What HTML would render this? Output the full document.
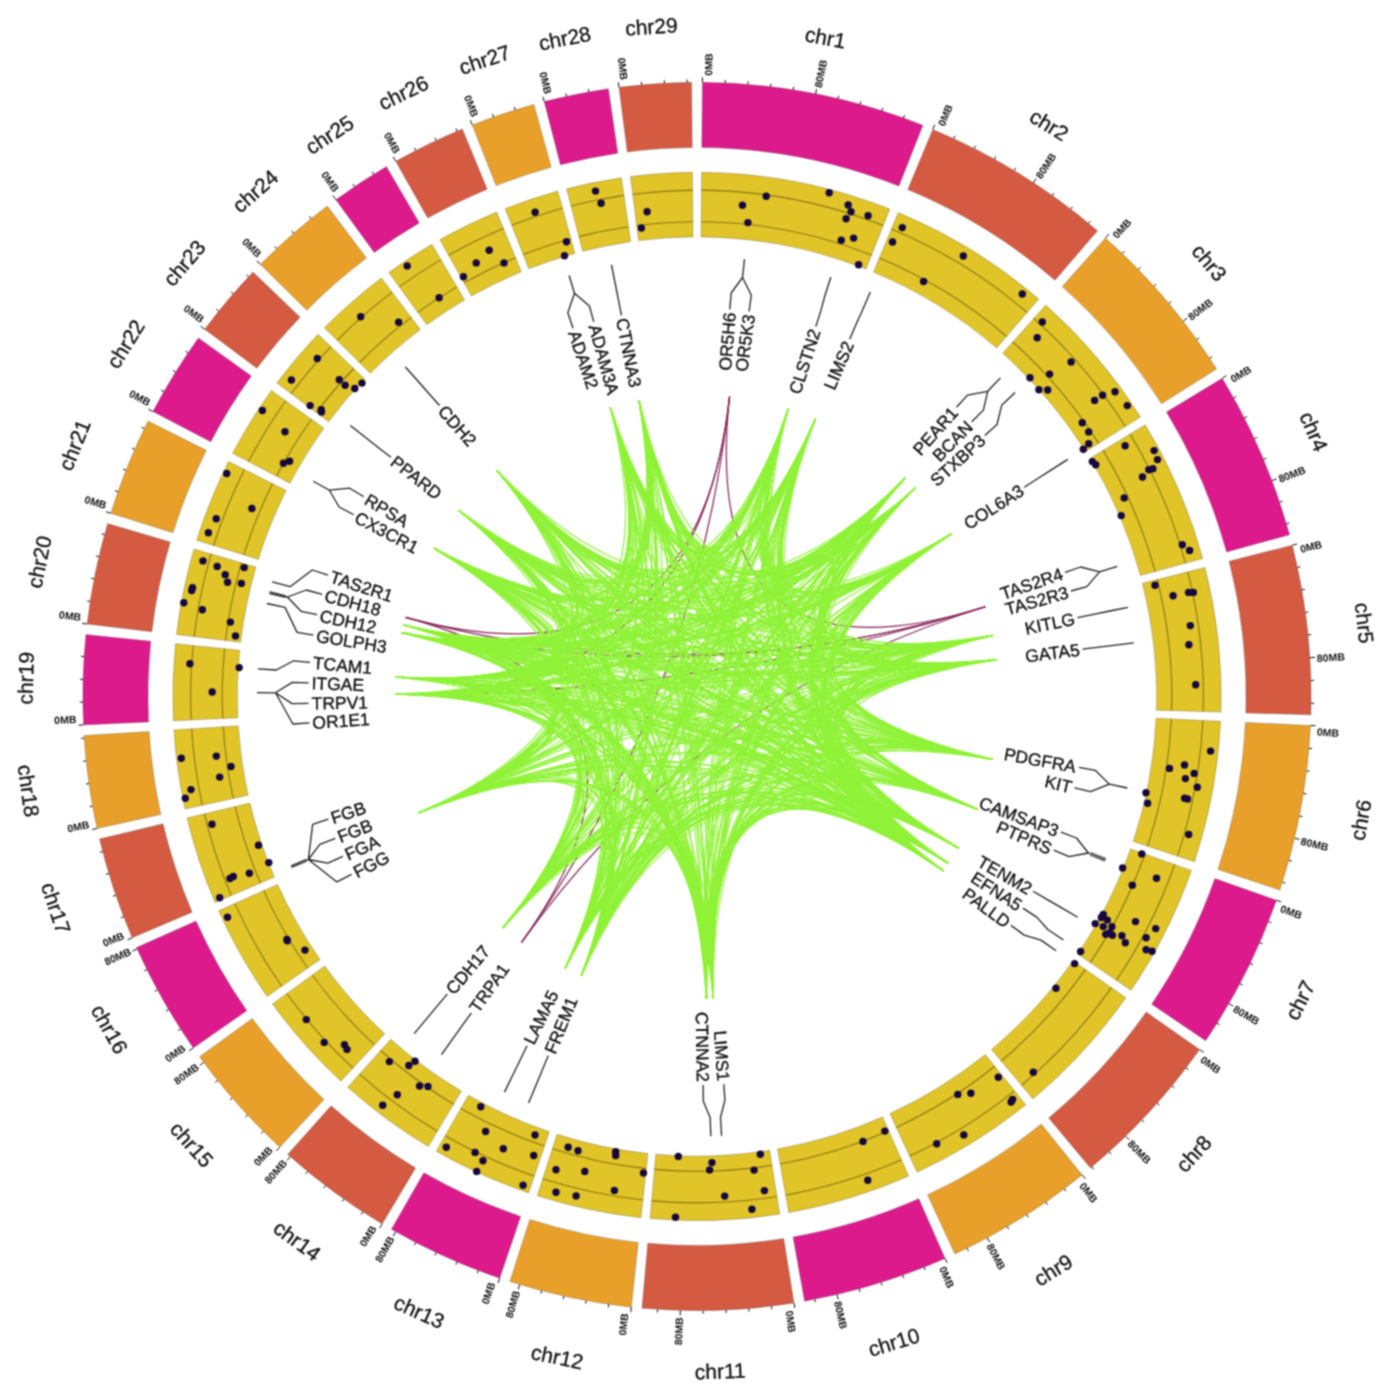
<!DOCTYPE html>
<html><head><meta charset="utf-8"><title>Circos plot</title>
<style>html,body{margin:0;padding:0;background:#fff;}svg{display:block;font-family:"Liberation Sans",sans-serif;}</style>
</head><body>
<svg width="1390" height="1394" viewBox="0 0 1390 1394">
<defs><filter id="bl" x="0" y="0" width="1" height="1" color-interpolation-filters="sRGB"><feConvolveMatrix order="3" kernelMatrix="1 2 1 2 4 2 1 2 1" divisor="16" edgeMode="duplicate"/></filter></defs>
<g filter="url(#bl)">
<rect width="1390" height="1394" fill="#fff"/>
<g fill="none" stroke="#862256" stroke-width="1.2">
<path d="M729.6 396.3Q697 696.5 985.3 606.7"/>
<path d="M729.6 396.3Q697 696.5 405.6 617.3"/>
<path d="M729.6 396.3Q697 696.5 521.6 942.4"/>
<path d="M985.3 606.7Q697 696.5 405.6 617.3"/>
<path d="M985.3 606.7Q697 696.5 521.6 942.4"/>
<path d="M405.6 617.3Q697 696.5 521.6 942.4"/>
<path d="M729.6 396.3Q697 696.5 395 693.9"/>
<path d="M985.3 606.7Q697 696.5 395 693.9"/>
<path d="M985.3 606.7Q697 696.5 403.6 625"/>
</g>
<g fill="none" stroke="#90f238" stroke-width="1.2">
<path d="M610.2 407.2Q697 696.5 788.3 408.6"/>
<path d="M610.2 407.2Q690.4 694.6 788.3 408.6"/>
<path d="M610.2 407.2Q697 696.5 815.5 418.7"/>
<path d="M610.2 407.2Q690.2 691.3 815.5 418.7"/>
<path d="M610.2 407.2Q697 696.5 905.3 477.8"/>
<path d="M610.2 407.2Q707.1 700.9 905.3 477.8"/>
<path d="M610.2 407.2Q697 696.5 915.3 487.9"/>
<path d="M610.2 407.2Q697.8 695.1 915.3 487.9"/>
<path d="M610.2 407.2Q697 696.5 951.4 533.8"/>
<path d="M610.2 407.2Q697.7 703.6 951.4 533.8"/>
<path d="M610.2 407.2Q697 696.5 992.7 635.3"/>
<path d="M610.2 407.2Q683.3 699.1 992.7 635.3"/>
<path d="M610.2 407.2Q697 696.5 996.7 659.7"/>
<path d="M610.2 407.2Q684.3 698.4 996.7 659.7"/>
<path d="M610.2 407.2Q697 696.5 992.4 759.3"/>
<path d="M610.2 407.2Q703.5 705.6 992.4 759.3"/>
<path d="M610.2 407.2Q697 696.5 977.2 809.1"/>
<path d="M610.2 407.2Q704.5 688.3 977.2 809.1"/>
<path d="M610.2 407.2Q697 696.5 958.3 848"/>
<path d="M610.2 407.2Q696.4 686.4 958.3 848"/>
<path d="M610.2 407.2Q697 696.5 948.5 863.6"/>
<path d="M610.2 407.2Q707.6 701 948.5 863.6"/>
<path d="M610.2 407.2Q697 696.5 943.5 871"/>
<path d="M610.2 407.2Q686.8 689.9 943.5 871"/>
<path d="M610.2 407.2Q697 696.5 713.3 998.1"/>
<path d="M610.2 407.2Q704.5 698 713.3 998.1"/>
<path d="M610.2 407.2Q697 696.5 706.5 998.4"/>
<path d="M610.2 407.2Q684.2 698.7 706.5 998.4"/>
<path d="M610.2 407.2Q697 696.5 581.4 975.5"/>
<path d="M610.2 407.2Q705.6 688.3 581.4 975.5"/>
<path d="M610.2 407.2Q697 696.5 565.1 968.2"/>
<path d="M610.2 407.2Q707.4 690.9 565.1 968.2"/>
<path d="M610.2 407.2Q697 696.5 502.9 927.8"/>
<path d="M610.2 407.2Q699.8 688.1 502.9 927.8"/>
<path d="M610.2 407.2Q697 696.5 418.4 813"/>
<path d="M610.2 407.2Q705.6 692.8 418.4 813"/>
<path d="M610.2 407.2Q697 696.5 395 693.9"/>
<path d="M610.2 407.2Q707.7 704 395 693.9"/>
<path d="M610.2 407.2Q697 696.5 395.6 677"/>
<path d="M610.2 407.2Q698.1 701.6 395.6 677"/>
<path d="M610.2 407.2Q697 696.5 401.8 632.7"/>
<path d="M610.2 407.2Q684.3 701.9 401.8 632.7"/>
<path d="M610.2 407.2Q697 696.5 403.6 625"/>
<path d="M610.2 407.2Q693.5 707 403.6 625"/>
<path d="M610.2 407.2Q697 696.5 433.9 548.2"/>
<path d="M610.2 407.2Q689.5 703.1 433.9 548.2"/>
<path d="M610.2 407.2Q697 696.5 459 510.6"/>
<path d="M610.2 407.2Q689.9 692.3 459 510.6"/>
<path d="M610.2 407.2Q697 696.5 496.9 470.3"/>
<path d="M610.2 407.2Q705.8 690.4 496.9 470.3"/>
<path d="M638.9 400.1Q697 696.5 788.3 408.6"/>
<path d="M638.9 400.1Q707.4 691.5 788.3 408.6"/>
<path d="M638.9 400.1Q697 696.5 815.5 418.7"/>
<path d="M638.9 400.1Q709.9 695.8 815.5 418.7"/>
<path d="M638.9 400.1Q697 696.5 905.3 477.8"/>
<path d="M638.9 400.1Q703 706.3 905.3 477.8"/>
<path d="M638.9 400.1Q697 696.5 915.3 487.9"/>
<path d="M638.9 400.1Q709.7 693.6 915.3 487.9"/>
<path d="M638.9 400.1Q697 696.5 951.4 533.8"/>
<path d="M638.9 400.1Q684.9 690.9 951.4 533.8"/>
<path d="M638.9 400.1Q697 696.5 992.7 635.3"/>
<path d="M638.9 400.1Q699.9 708 992.7 635.3"/>
<path d="M638.9 400.1Q697 696.5 996.7 659.7"/>
<path d="M638.9 400.1Q685.6 690.8 996.7 659.7"/>
<path d="M638.9 400.1Q697 696.5 992.4 759.3"/>
<path d="M638.9 400.1Q703.9 699.4 992.4 759.3"/>
<path d="M638.9 400.1Q697 696.5 977.2 809.1"/>
<path d="M638.9 400.1Q709.9 695.7 977.2 809.1"/>
<path d="M638.9 400.1Q697 696.5 958.3 848"/>
<path d="M638.9 400.1Q698.3 692.5 958.3 848"/>
<path d="M638.9 400.1Q697 696.5 948.5 863.6"/>
<path d="M638.9 400.1Q702.2 703.8 948.5 863.6"/>
<path d="M638.9 400.1Q697 696.5 943.5 871"/>
<path d="M638.9 400.1Q697.9 689 943.5 871"/>
<path d="M638.9 400.1Q697 696.5 713.3 998.1"/>
<path d="M638.9 400.1Q709.6 700.1 713.3 998.1"/>
<path d="M638.9 400.1Q697 696.5 706.5 998.4"/>
<path d="M638.9 400.1Q707.5 699.6 706.5 998.4"/>
<path d="M638.9 400.1Q697 696.5 581.4 975.5"/>
<path d="M638.9 400.1Q691.2 706.9 581.4 975.5"/>
<path d="M638.9 400.1Q697 696.5 565.1 968.2"/>
<path d="M638.9 400.1Q710 694.9 565.1 968.2"/>
<path d="M638.9 400.1Q697 696.5 502.9 927.8"/>
<path d="M638.9 400.1Q707 696.4 502.9 927.8"/>
<path d="M638.9 400.1Q697 696.5 418.4 813"/>
<path d="M638.9 400.1Q703.9 700.1 418.4 813"/>
<path d="M638.9 400.1Q697 696.5 395 693.9"/>
<path d="M638.9 400.1Q707.6 698.6 395 693.9"/>
<path d="M638.9 400.1Q697 696.5 395.6 677"/>
<path d="M638.9 400.1Q691.8 699.9 395.6 677"/>
<path d="M638.9 400.1Q697 696.5 401.8 632.7"/>
<path d="M638.9 400.1Q703.1 705.6 401.8 632.7"/>
<path d="M638.9 400.1Q697 696.5 403.6 625"/>
<path d="M638.9 400.1Q698.9 694.4 403.6 625"/>
<path d="M638.9 400.1Q697 696.5 433.9 548.2"/>
<path d="M638.9 400.1Q704.6 694.5 433.9 548.2"/>
<path d="M638.9 400.1Q697 696.5 459 510.6"/>
<path d="M638.9 400.1Q687.5 705.7 459 510.6"/>
<path d="M638.9 400.1Q697 696.5 496.9 470.3"/>
<path d="M638.9 400.1Q687.6 695.3 496.9 470.3"/>
<path d="M788.3 408.6Q697 696.5 905.3 477.8"/>
<path d="M788.3 408.6Q687.7 690.1 905.3 477.8"/>
<path d="M788.3 408.6Q697 696.5 915.3 487.9"/>
<path d="M788.3 408.6Q689.4 689.3 915.3 487.9"/>
<path d="M788.3 408.6Q697 696.5 951.4 533.8"/>
<path d="M788.3 408.6Q683.4 695.9 951.4 533.8"/>
<path d="M788.3 408.6Q697 696.5 992.7 635.3"/>
<path d="M788.3 408.6Q695.3 687.5 992.7 635.3"/>
<path d="M788.3 408.6Q697 696.5 996.7 659.7"/>
<path d="M788.3 408.6Q694.8 703 996.7 659.7"/>
<path d="M788.3 408.6Q697 696.5 992.4 759.3"/>
<path d="M788.3 408.6Q683.3 694.7 992.4 759.3"/>
<path d="M788.3 408.6Q697 696.5 977.2 809.1"/>
<path d="M788.3 408.6Q707.3 697.2 977.2 809.1"/>
<path d="M788.3 408.6Q697 696.5 958.3 848"/>
<path d="M788.3 408.6Q689.1 692.2 958.3 848"/>
<path d="M788.3 408.6Q697 696.5 948.5 863.6"/>
<path d="M788.3 408.6Q695.5 695.2 948.5 863.6"/>
<path d="M788.3 408.6Q697 696.5 943.5 871"/>
<path d="M788.3 408.6Q707.3 700.6 943.5 871"/>
<path d="M788.3 408.6Q697 696.5 713.3 998.1"/>
<path d="M788.3 408.6Q686.2 698.8 713.3 998.1"/>
<path d="M788.3 408.6Q697 696.5 706.5 998.4"/>
<path d="M788.3 408.6Q690.1 705.7 706.5 998.4"/>
<path d="M788.3 408.6Q697 696.5 581.4 975.5"/>
<path d="M788.3 408.6Q696.1 684.8 581.4 975.5"/>
<path d="M788.3 408.6Q697 696.5 565.1 968.2"/>
<path d="M788.3 408.6Q698.9 697.3 565.1 968.2"/>
<path d="M788.3 408.6Q697 696.5 502.9 927.8"/>
<path d="M788.3 408.6Q708.2 693.9 502.9 927.8"/>
<path d="M788.3 408.6Q697 696.5 418.4 813"/>
<path d="M788.3 408.6Q690.2 698.4 418.4 813"/>
<path d="M788.3 408.6Q697 696.5 395 693.9"/>
<path d="M788.3 408.6Q692.4 706.3 395 693.9"/>
<path d="M788.3 408.6Q697 696.5 395.6 677"/>
<path d="M788.3 408.6Q693.8 704.3 395.6 677"/>
<path d="M788.3 408.6Q697 696.5 401.8 632.7"/>
<path d="M788.3 408.6Q690 691.7 401.8 632.7"/>
<path d="M788.3 408.6Q697 696.5 403.6 625"/>
<path d="M788.3 408.6Q691.5 701.9 403.6 625"/>
<path d="M788.3 408.6Q697 696.5 433.9 548.2"/>
<path d="M788.3 408.6Q709.1 698.6 433.9 548.2"/>
<path d="M788.3 408.6Q697 696.5 459 510.6"/>
<path d="M788.3 408.6Q696 686 459 510.6"/>
<path d="M788.3 408.6Q697 696.5 496.9 470.3"/>
<path d="M788.3 408.6Q698.3 704.2 496.9 470.3"/>
<path d="M815.5 418.7Q697 696.5 905.3 477.8"/>
<path d="M815.5 418.7Q697.9 709 905.3 477.8"/>
<path d="M815.5 418.7Q697 696.5 915.3 487.9"/>
<path d="M815.5 418.7Q691.4 698.9 915.3 487.9"/>
<path d="M815.5 418.7Q697 696.5 951.4 533.8"/>
<path d="M815.5 418.7Q706.4 703.5 951.4 533.8"/>
<path d="M815.5 418.7Q697 696.5 992.7 635.3"/>
<path d="M815.5 418.7Q693 703.4 992.7 635.3"/>
<path d="M815.5 418.7Q697 696.5 996.7 659.7"/>
<path d="M815.5 418.7Q685.2 701.3 996.7 659.7"/>
<path d="M815.5 418.7Q697 696.5 992.4 759.3"/>
<path d="M815.5 418.7Q703.3 707.8 992.4 759.3"/>
<path d="M815.5 418.7Q697 696.5 977.2 809.1"/>
<path d="M815.5 418.7Q692.2 689.9 977.2 809.1"/>
<path d="M815.5 418.7Q697 696.5 958.3 848"/>
<path d="M815.5 418.7Q684.4 700.5 958.3 848"/>
<path d="M815.5 418.7Q697 696.5 948.5 863.6"/>
<path d="M815.5 418.7Q701.8 701.1 948.5 863.6"/>
<path d="M815.5 418.7Q697 696.5 943.5 871"/>
<path d="M815.5 418.7Q700.7 706 943.5 871"/>
<path d="M815.5 418.7Q697 696.5 713.3 998.1"/>
<path d="M815.5 418.7Q703.6 685.8 713.3 998.1"/>
<path d="M815.5 418.7Q697 696.5 706.5 998.4"/>
<path d="M815.5 418.7Q695.9 702.4 706.5 998.4"/>
<path d="M815.5 418.7Q697 696.5 581.4 975.5"/>
<path d="M815.5 418.7Q689.1 686.7 581.4 975.5"/>
<path d="M815.5 418.7Q697 696.5 565.1 968.2"/>
<path d="M815.5 418.7Q689.9 706.9 565.1 968.2"/>
<path d="M815.5 418.7Q697 696.5 502.9 927.8"/>
<path d="M815.5 418.7Q695.7 701.4 502.9 927.8"/>
<path d="M815.5 418.7Q697 696.5 418.4 813"/>
<path d="M815.5 418.7Q695.3 708.9 418.4 813"/>
<path d="M815.5 418.7Q697 696.5 395 693.9"/>
<path d="M815.5 418.7Q689.9 700.6 395 693.9"/>
<path d="M815.5 418.7Q697 696.5 395.6 677"/>
<path d="M815.5 418.7Q689.4 701.4 395.6 677"/>
<path d="M815.5 418.7Q697 696.5 401.8 632.7"/>
<path d="M815.5 418.7Q704.5 707.7 401.8 632.7"/>
<path d="M815.5 418.7Q697 696.5 403.6 625"/>
<path d="M815.5 418.7Q697.9 696.2 403.6 625"/>
<path d="M815.5 418.7Q697 696.5 433.9 548.2"/>
<path d="M815.5 418.7Q710.1 695.4 433.9 548.2"/>
<path d="M815.5 418.7Q697 696.5 459 510.6"/>
<path d="M815.5 418.7Q705.8 693.7 459 510.6"/>
<path d="M815.5 418.7Q697 696.5 496.9 470.3"/>
<path d="M815.5 418.7Q699.4 709.8 496.9 470.3"/>
<path d="M905.3 477.8Q697 696.5 992.7 635.3"/>
<path d="M905.3 477.8Q703.3 686.2 992.7 635.3"/>
<path d="M905.3 477.8Q697 696.5 996.7 659.7"/>
<path d="M905.3 477.8Q685.7 695.1 996.7 659.7"/>
<path d="M905.3 477.8Q697 696.5 992.4 759.3"/>
<path d="M905.3 477.8Q692.9 702.8 992.4 759.3"/>
<path d="M905.3 477.8Q697 696.5 977.2 809.1"/>
<path d="M905.3 477.8Q703.1 699.3 977.2 809.1"/>
<path d="M905.3 477.8Q697 696.5 958.3 848"/>
<path d="M905.3 477.8Q694.5 707 958.3 848"/>
<path d="M905.3 477.8Q697 696.5 948.5 863.6"/>
<path d="M905.3 477.8Q709.1 700 948.5 863.6"/>
<path d="M905.3 477.8Q697 696.5 943.5 871"/>
<path d="M905.3 477.8Q692.4 684 943.5 871"/>
<path d="M905.3 477.8Q697 696.5 713.3 998.1"/>
<path d="M905.3 477.8Q707.7 688.4 713.3 998.1"/>
<path d="M905.3 477.8Q697 696.5 706.5 998.4"/>
<path d="M905.3 477.8Q685.2 690.3 706.5 998.4"/>
<path d="M905.3 477.8Q697 696.5 581.4 975.5"/>
<path d="M905.3 477.8Q697 694.9 581.4 975.5"/>
<path d="M905.3 477.8Q697 696.5 565.1 968.2"/>
<path d="M905.3 477.8Q695.2 702 565.1 968.2"/>
<path d="M905.3 477.8Q697 696.5 502.9 927.8"/>
<path d="M905.3 477.8Q685.7 694.7 502.9 927.8"/>
<path d="M905.3 477.8Q697 696.5 418.4 813"/>
<path d="M905.3 477.8Q705.4 693.1 418.4 813"/>
<path d="M905.3 477.8Q697 696.5 395 693.9"/>
<path d="M905.3 477.8Q691.1 705.7 395 693.9"/>
<path d="M905.3 477.8Q697 696.5 395.6 677"/>
<path d="M905.3 477.8Q701.5 691.1 395.6 677"/>
<path d="M905.3 477.8Q697 696.5 401.8 632.7"/>
<path d="M905.3 477.8Q699 687 401.8 632.7"/>
<path d="M905.3 477.8Q697 696.5 403.6 625"/>
<path d="M905.3 477.8Q699.7 704.4 403.6 625"/>
<path d="M905.3 477.8Q697 696.5 433.9 548.2"/>
<path d="M905.3 477.8Q701.2 687.2 433.9 548.2"/>
<path d="M905.3 477.8Q697 696.5 459 510.6"/>
<path d="M905.3 477.8Q698.5 690.9 459 510.6"/>
<path d="M905.3 477.8Q697 696.5 496.9 470.3"/>
<path d="M905.3 477.8Q701.6 683.9 496.9 470.3"/>
<path d="M915.3 487.9Q697 696.5 992.7 635.3"/>
<path d="M915.3 487.9Q709.7 697.1 992.7 635.3"/>
<path d="M915.3 487.9Q697 696.5 996.7 659.7"/>
<path d="M915.3 487.9Q704.2 688.1 996.7 659.7"/>
<path d="M915.3 487.9Q697 696.5 992.4 759.3"/>
<path d="M915.3 487.9Q696.6 699.6 992.4 759.3"/>
<path d="M915.3 487.9Q697 696.5 977.2 809.1"/>
<path d="M915.3 487.9Q689.9 695.3 977.2 809.1"/>
<path d="M915.3 487.9Q697 696.5 958.3 848"/>
<path d="M915.3 487.9Q688 698 958.3 848"/>
<path d="M915.3 487.9Q697 696.5 948.5 863.6"/>
<path d="M915.3 487.9Q709.3 696.6 948.5 863.6"/>
<path d="M915.3 487.9Q697 696.5 943.5 871"/>
<path d="M915.3 487.9Q699.3 698.8 943.5 871"/>
<path d="M915.3 487.9Q697 696.5 713.3 998.1"/>
<path d="M915.3 487.9Q701.5 698.6 713.3 998.1"/>
<path d="M915.3 487.9Q697 696.5 706.5 998.4"/>
<path d="M915.3 487.9Q705.4 685.5 706.5 998.4"/>
<path d="M915.3 487.9Q697 696.5 581.4 975.5"/>
<path d="M915.3 487.9Q692.9 696.4 581.4 975.5"/>
<path d="M915.3 487.9Q697 696.5 565.1 968.2"/>
<path d="M915.3 487.9Q693.9 703.7 565.1 968.2"/>
<path d="M915.3 487.9Q697 696.5 502.9 927.8"/>
<path d="M915.3 487.9Q692 689.9 502.9 927.8"/>
<path d="M915.3 487.9Q697 696.5 418.4 813"/>
<path d="M915.3 487.9Q690.1 704.7 418.4 813"/>
<path d="M915.3 487.9Q697 696.5 395 693.9"/>
<path d="M915.3 487.9Q694.1 701.9 395 693.9"/>
<path d="M915.3 487.9Q697 696.5 395.6 677"/>
<path d="M915.3 487.9Q692.4 694.8 395.6 677"/>
<path d="M915.3 487.9Q697 696.5 401.8 632.7"/>
<path d="M915.3 487.9Q688.4 704.6 401.8 632.7"/>
<path d="M915.3 487.9Q697 696.5 403.6 625"/>
<path d="M915.3 487.9Q698.7 700.1 403.6 625"/>
<path d="M915.3 487.9Q697 696.5 433.9 548.2"/>
<path d="M915.3 487.9Q690.2 691.3 433.9 548.2"/>
<path d="M915.3 487.9Q697 696.5 459 510.6"/>
<path d="M915.3 487.9Q688 705 459 510.6"/>
<path d="M915.3 487.9Q697 696.5 496.9 470.3"/>
<path d="M915.3 487.9Q688 687.8 496.9 470.3"/>
<path d="M951.4 533.8Q697 696.5 992.7 635.3"/>
<path d="M951.4 533.8Q690.6 703.1 992.7 635.3"/>
<path d="M951.4 533.8Q697 696.5 996.7 659.7"/>
<path d="M951.4 533.8Q694.1 687.1 996.7 659.7"/>
<path d="M951.4 533.8Q697 696.5 992.4 759.3"/>
<path d="M951.4 533.8Q693.9 688 992.4 759.3"/>
<path d="M951.4 533.8Q697 696.5 977.2 809.1"/>
<path d="M951.4 533.8Q697.3 706 977.2 809.1"/>
<path d="M951.4 533.8Q697 696.5 958.3 848"/>
<path d="M951.4 533.8Q693.5 686.9 958.3 848"/>
<path d="M951.4 533.8Q697 696.5 948.5 863.6"/>
<path d="M951.4 533.8Q693.7 698.2 948.5 863.6"/>
<path d="M951.4 533.8Q697 696.5 943.5 871"/>
<path d="M951.4 533.8Q703.6 690.2 943.5 871"/>
<path d="M951.4 533.8Q697 696.5 713.3 998.1"/>
<path d="M951.4 533.8Q687.5 706.1 713.3 998.1"/>
<path d="M951.4 533.8Q697 696.5 706.5 998.4"/>
<path d="M951.4 533.8Q700.4 683.7 706.5 998.4"/>
<path d="M951.4 533.8Q697 696.5 581.4 975.5"/>
<path d="M951.4 533.8Q690 698.1 581.4 975.5"/>
<path d="M951.4 533.8Q697 696.5 565.1 968.2"/>
<path d="M951.4 533.8Q698.9 692 565.1 968.2"/>
<path d="M951.4 533.8Q697 696.5 502.9 927.8"/>
<path d="M951.4 533.8Q705.7 689.1 502.9 927.8"/>
<path d="M951.4 533.8Q697 696.5 418.4 813"/>
<path d="M951.4 533.8Q690.8 685.7 418.4 813"/>
<path d="M951.4 533.8Q697 696.5 395 693.9"/>
<path d="M951.4 533.8Q686 691.8 395 693.9"/>
<path d="M951.4 533.8Q697 696.5 395.6 677"/>
<path d="M951.4 533.8Q693.2 694.1 395.6 677"/>
<path d="M951.4 533.8Q697 696.5 401.8 632.7"/>
<path d="M951.4 533.8Q697.6 697.3 401.8 632.7"/>
<path d="M951.4 533.8Q697 696.5 403.6 625"/>
<path d="M951.4 533.8Q708.8 699.9 403.6 625"/>
<path d="M951.4 533.8Q697 696.5 433.9 548.2"/>
<path d="M951.4 533.8Q700.4 699 433.9 548.2"/>
<path d="M951.4 533.8Q697 696.5 459 510.6"/>
<path d="M951.4 533.8Q702.7 708.4 459 510.6"/>
<path d="M951.4 533.8Q697 696.5 496.9 470.3"/>
<path d="M951.4 533.8Q698.2 694.7 496.9 470.3"/>
<path d="M992.7 635.3Q697 696.5 992.4 759.3"/>
<path d="M992.7 635.3Q699.7 692.4 992.4 759.3"/>
<path d="M992.7 635.3Q697 696.5 977.2 809.1"/>
<path d="M992.7 635.3Q702.9 686.7 977.2 809.1"/>
<path d="M992.7 635.3Q697 696.5 958.3 848"/>
<path d="M992.7 635.3Q685 690 958.3 848"/>
<path d="M992.7 635.3Q697 696.5 948.5 863.6"/>
<path d="M992.7 635.3Q709.2 699.3 948.5 863.6"/>
<path d="M992.7 635.3Q697 696.5 943.5 871"/>
<path d="M992.7 635.3Q684.8 695.6 943.5 871"/>
<path d="M992.7 635.3Q697 696.5 713.3 998.1"/>
<path d="M992.7 635.3Q706.3 703.9 713.3 998.1"/>
<path d="M992.7 635.3Q697 696.5 706.5 998.4"/>
<path d="M992.7 635.3Q708.1 691.7 706.5 998.4"/>
<path d="M992.7 635.3Q697 696.5 581.4 975.5"/>
<path d="M992.7 635.3Q695.4 699.6 581.4 975.5"/>
<path d="M992.7 635.3Q697 696.5 565.1 968.2"/>
<path d="M992.7 635.3Q702 687.2 565.1 968.2"/>
<path d="M992.7 635.3Q697 696.5 502.9 927.8"/>
<path d="M992.7 635.3Q699.9 702.7 502.9 927.8"/>
<path d="M992.7 635.3Q697 696.5 418.4 813"/>
<path d="M992.7 635.3Q691.8 691.8 418.4 813"/>
<path d="M992.7 635.3Q697 696.5 395 693.9"/>
<path d="M992.7 635.3Q687.5 704 395 693.9"/>
<path d="M992.7 635.3Q697 696.5 395.6 677"/>
<path d="M992.7 635.3Q690.2 701.6 395.6 677"/>
<path d="M992.7 635.3Q697 696.5 401.8 632.7"/>
<path d="M992.7 635.3Q689.8 700.6 401.8 632.7"/>
<path d="M992.7 635.3Q697 696.5 403.6 625"/>
<path d="M992.7 635.3Q693 696.5 403.6 625"/>
<path d="M992.7 635.3Q697 696.5 433.9 548.2"/>
<path d="M992.7 635.3Q685.2 703.7 433.9 548.2"/>
<path d="M992.7 635.3Q697 696.5 459 510.6"/>
<path d="M992.7 635.3Q703.4 706.7 459 510.6"/>
<path d="M992.7 635.3Q697 696.5 496.9 470.3"/>
<path d="M992.7 635.3Q697.4 684.9 496.9 470.3"/>
<path d="M996.7 659.7Q697 696.5 992.4 759.3"/>
<path d="M996.7 659.7Q685.6 695.3 992.4 759.3"/>
<path d="M996.7 659.7Q697 696.5 977.2 809.1"/>
<path d="M996.7 659.7Q690.9 688.9 977.2 809.1"/>
<path d="M996.7 659.7Q697 696.5 958.3 848"/>
<path d="M996.7 659.7Q704.8 707.2 958.3 848"/>
<path d="M996.7 659.7Q697 696.5 948.5 863.6"/>
<path d="M996.7 659.7Q696.9 692.2 948.5 863.6"/>
<path d="M996.7 659.7Q697 696.5 943.5 871"/>
<path d="M996.7 659.7Q683.7 695 943.5 871"/>
<path d="M996.7 659.7Q697 696.5 713.3 998.1"/>
<path d="M996.7 659.7Q695.2 687.4 713.3 998.1"/>
<path d="M996.7 659.7Q697 696.5 706.5 998.4"/>
<path d="M996.7 659.7Q696.3 702.5 706.5 998.4"/>
<path d="M996.7 659.7Q697 696.5 581.4 975.5"/>
<path d="M996.7 659.7Q691.6 693.3 581.4 975.5"/>
<path d="M996.7 659.7Q697 696.5 565.1 968.2"/>
<path d="M996.7 659.7Q697.9 704.3 565.1 968.2"/>
<path d="M996.7 659.7Q697 696.5 502.9 927.8"/>
<path d="M996.7 659.7Q708.1 693.1 502.9 927.8"/>
<path d="M996.7 659.7Q697 696.5 418.4 813"/>
<path d="M996.7 659.7Q694.9 689.2 418.4 813"/>
<path d="M996.7 659.7Q697 696.5 395 693.9"/>
<path d="M996.7 659.7Q702.5 689.3 395 693.9"/>
<path d="M996.7 659.7Q697 696.5 395.6 677"/>
<path d="M996.7 659.7Q695.8 707.1 395.6 677"/>
<path d="M996.7 659.7Q697 696.5 401.8 632.7"/>
<path d="M996.7 659.7Q703.5 697.4 401.8 632.7"/>
<path d="M996.7 659.7Q697 696.5 403.6 625"/>
<path d="M996.7 659.7Q689.8 703 403.6 625"/>
<path d="M996.7 659.7Q697 696.5 433.9 548.2"/>
<path d="M996.7 659.7Q693.3 701 433.9 548.2"/>
<path d="M996.7 659.7Q697 696.5 459 510.6"/>
<path d="M996.7 659.7Q698.2 688.6 459 510.6"/>
<path d="M996.7 659.7Q697 696.5 496.9 470.3"/>
<path d="M996.7 659.7Q702.3 696.2 496.9 470.3"/>
<path d="M992.4 759.3Q697 696.5 958.3 848"/>
<path d="M992.4 759.3Q689.1 690.9 958.3 848"/>
<path d="M992.4 759.3Q697 696.5 948.5 863.6"/>
<path d="M992.4 759.3Q701.9 688.2 948.5 863.6"/>
<path d="M992.4 759.3Q697 696.5 943.5 871"/>
<path d="M992.4 759.3Q685.1 692 943.5 871"/>
<path d="M992.4 759.3Q697 696.5 713.3 998.1"/>
<path d="M992.4 759.3Q695.2 687 713.3 998.1"/>
<path d="M992.4 759.3Q697 696.5 706.5 998.4"/>
<path d="M992.4 759.3Q686.5 704.1 706.5 998.4"/>
<path d="M992.4 759.3Q697 696.5 581.4 975.5"/>
<path d="M992.4 759.3Q708.6 693.5 581.4 975.5"/>
<path d="M992.4 759.3Q697 696.5 565.1 968.2"/>
<path d="M992.4 759.3Q698.2 706 565.1 968.2"/>
<path d="M992.4 759.3Q697 696.5 502.9 927.8"/>
<path d="M992.4 759.3Q695.6 689.9 502.9 927.8"/>
<path d="M992.4 759.3Q697 696.5 418.4 813"/>
<path d="M992.4 759.3Q708.1 693.5 418.4 813"/>
<path d="M992.4 759.3Q697 696.5 395 693.9"/>
<path d="M992.4 759.3Q697.6 709.4 395 693.9"/>
<path d="M992.4 759.3Q697 696.5 395.6 677"/>
<path d="M992.4 759.3Q696.7 702.6 395.6 677"/>
<path d="M992.4 759.3Q697 696.5 401.8 632.7"/>
<path d="M992.4 759.3Q695.3 690.7 401.8 632.7"/>
<path d="M992.4 759.3Q697 696.5 403.6 625"/>
<path d="M992.4 759.3Q707.5 688.9 403.6 625"/>
<path d="M992.4 759.3Q697 696.5 433.9 548.2"/>
<path d="M992.4 759.3Q701.7 691.2 433.9 548.2"/>
<path d="M992.4 759.3Q697 696.5 459 510.6"/>
<path d="M992.4 759.3Q690.1 700.1 459 510.6"/>
<path d="M992.4 759.3Q697 696.5 496.9 470.3"/>
<path d="M992.4 759.3Q707.3 702.6 496.9 470.3"/>
<path d="M977.2 809.1Q697 696.5 713.3 998.1"/>
<path d="M977.2 809.1Q699.1 692.8 713.3 998.1"/>
<path d="M977.2 809.1Q697 696.5 706.5 998.4"/>
<path d="M977.2 809.1Q692.3 702.4 706.5 998.4"/>
<path d="M977.2 809.1Q697 696.5 581.4 975.5"/>
<path d="M977.2 809.1Q692.2 687 581.4 975.5"/>
<path d="M977.2 809.1Q697 696.5 565.1 968.2"/>
<path d="M977.2 809.1Q696.4 697.5 565.1 968.2"/>
<path d="M977.2 809.1Q697 696.5 502.9 927.8"/>
<path d="M977.2 809.1Q687.8 697.3 502.9 927.8"/>
<path d="M977.2 809.1Q697 696.5 418.4 813"/>
<path d="M977.2 809.1Q691.5 693.2 418.4 813"/>
<path d="M977.2 809.1Q697 696.5 395 693.9"/>
<path d="M977.2 809.1Q686.4 705.2 395 693.9"/>
<path d="M977.2 809.1Q697 696.5 395.6 677"/>
<path d="M977.2 809.1Q704.6 703.5 395.6 677"/>
<path d="M977.2 809.1Q697 696.5 401.8 632.7"/>
<path d="M977.2 809.1Q693.3 690.2 401.8 632.7"/>
<path d="M977.2 809.1Q697 696.5 403.6 625"/>
<path d="M977.2 809.1Q700.6 693.4 403.6 625"/>
<path d="M977.2 809.1Q697 696.5 433.9 548.2"/>
<path d="M977.2 809.1Q707.9 704.1 433.9 548.2"/>
<path d="M977.2 809.1Q697 696.5 459 510.6"/>
<path d="M977.2 809.1Q687.4 706.2 459 510.6"/>
<path d="M977.2 809.1Q697 696.5 496.9 470.3"/>
<path d="M977.2 809.1Q697.6 684.2 496.9 470.3"/>
<path d="M958.3 848Q697 696.5 713.3 998.1"/>
<path d="M958.3 848Q693.6 689.7 713.3 998.1"/>
<path d="M958.3 848Q697 696.5 706.5 998.4"/>
<path d="M958.3 848Q700.9 685.9 706.5 998.4"/>
<path d="M958.3 848Q697 696.5 581.4 975.5"/>
<path d="M958.3 848Q697.2 689.3 581.4 975.5"/>
<path d="M958.3 848Q697 696.5 565.1 968.2"/>
<path d="M958.3 848Q690.6 684.4 565.1 968.2"/>
<path d="M958.3 848Q697 696.5 502.9 927.8"/>
<path d="M958.3 848Q704.8 703.2 502.9 927.8"/>
<path d="M958.3 848Q697 696.5 418.4 813"/>
<path d="M958.3 848Q691.1 704.4 418.4 813"/>
<path d="M958.3 848Q697 696.5 395 693.9"/>
<path d="M958.3 848Q691.9 685.8 395 693.9"/>
<path d="M958.3 848Q697 696.5 395.6 677"/>
<path d="M958.3 848Q701.4 706.1 395.6 677"/>
<path d="M958.3 848Q697 696.5 401.8 632.7"/>
<path d="M958.3 848Q689.3 688.3 401.8 632.7"/>
<path d="M958.3 848Q697 696.5 403.6 625"/>
<path d="M958.3 848Q701.6 692.7 403.6 625"/>
<path d="M958.3 848Q697 696.5 433.9 548.2"/>
<path d="M958.3 848Q705.1 704.4 433.9 548.2"/>
<path d="M958.3 848Q697 696.5 459 510.6"/>
<path d="M958.3 848Q705.5 707 459 510.6"/>
<path d="M958.3 848Q697 696.5 496.9 470.3"/>
<path d="M958.3 848Q695.5 688.6 496.9 470.3"/>
<path d="M948.5 863.6Q697 696.5 713.3 998.1"/>
<path d="M948.5 863.6Q686.8 692.8 713.3 998.1"/>
<path d="M948.5 863.6Q697 696.5 706.5 998.4"/>
<path d="M948.5 863.6Q686.1 699.5 706.5 998.4"/>
<path d="M948.5 863.6Q697 696.5 581.4 975.5"/>
<path d="M948.5 863.6Q700.5 703.5 581.4 975.5"/>
<path d="M948.5 863.6Q697 696.5 565.1 968.2"/>
<path d="M948.5 863.6Q696.2 692.9 565.1 968.2"/>
<path d="M948.5 863.6Q697 696.5 502.9 927.8"/>
<path d="M948.5 863.6Q685.3 693.2 502.9 927.8"/>
<path d="M948.5 863.6Q697 696.5 418.4 813"/>
<path d="M948.5 863.6Q689.4 705.8 418.4 813"/>
<path d="M948.5 863.6Q697 696.5 395 693.9"/>
<path d="M948.5 863.6Q691.6 701.3 395 693.9"/>
<path d="M948.5 863.6Q697 696.5 395.6 677"/>
<path d="M948.5 863.6Q709.6 699.9 395.6 677"/>
<path d="M948.5 863.6Q697 696.5 401.8 632.7"/>
<path d="M948.5 863.6Q697.2 706.4 401.8 632.7"/>
<path d="M948.5 863.6Q697 696.5 403.6 625"/>
<path d="M948.5 863.6Q689.5 706.2 403.6 625"/>
<path d="M948.5 863.6Q697 696.5 433.9 548.2"/>
<path d="M948.5 863.6Q690.4 701.1 433.9 548.2"/>
<path d="M948.5 863.6Q697 696.5 459 510.6"/>
<path d="M948.5 863.6Q698.4 686.3 459 510.6"/>
<path d="M948.5 863.6Q697 696.5 496.9 470.3"/>
<path d="M948.5 863.6Q701.8 689.7 496.9 470.3"/>
<path d="M943.5 871Q697 696.5 713.3 998.1"/>
<path d="M943.5 871Q696.4 701.1 713.3 998.1"/>
<path d="M943.5 871Q697 696.5 706.5 998.4"/>
<path d="M943.5 871Q700.4 699.4 706.5 998.4"/>
<path d="M943.5 871Q697 696.5 581.4 975.5"/>
<path d="M943.5 871Q695.2 684.3 581.4 975.5"/>
<path d="M943.5 871Q697 696.5 565.1 968.2"/>
<path d="M943.5 871Q699.2 702.1 565.1 968.2"/>
<path d="M943.5 871Q697 696.5 502.9 927.8"/>
<path d="M943.5 871Q696.6 687.5 502.9 927.8"/>
<path d="M943.5 871Q697 696.5 418.4 813"/>
<path d="M943.5 871Q696.9 683.9 418.4 813"/>
<path d="M943.5 871Q697 696.5 395 693.9"/>
<path d="M943.5 871Q703.5 705.1 395 693.9"/>
<path d="M943.5 871Q697 696.5 395.6 677"/>
<path d="M943.5 871Q700.1 704.8 395.6 677"/>
<path d="M943.5 871Q697 696.5 401.8 632.7"/>
<path d="M943.5 871Q687.8 692.3 401.8 632.7"/>
<path d="M943.5 871Q697 696.5 403.6 625"/>
<path d="M943.5 871Q697 702.8 403.6 625"/>
<path d="M943.5 871Q697 696.5 433.9 548.2"/>
<path d="M943.5 871Q709.2 698.8 433.9 548.2"/>
<path d="M943.5 871Q697 696.5 459 510.6"/>
<path d="M943.5 871Q706.7 688.6 459 510.6"/>
<path d="M943.5 871Q697 696.5 496.9 470.3"/>
<path d="M943.5 871Q686.9 705.6 496.9 470.3"/>
<path d="M713.3 998.1Q697 696.5 581.4 975.5"/>
<path d="M713.3 998.1Q688 691.3 581.4 975.5"/>
<path d="M713.3 998.1Q697 696.5 565.1 968.2"/>
<path d="M713.3 998.1Q708 694.9 565.1 968.2"/>
<path d="M713.3 998.1Q697 696.5 502.9 927.8"/>
<path d="M713.3 998.1Q693.5 707.5 502.9 927.8"/>
<path d="M713.3 998.1Q697 696.5 418.4 813"/>
<path d="M713.3 998.1Q684.1 697.8 418.4 813"/>
<path d="M713.3 998.1Q697 696.5 395 693.9"/>
<path d="M713.3 998.1Q695.4 685.8 395 693.9"/>
<path d="M713.3 998.1Q697 696.5 395.6 677"/>
<path d="M713.3 998.1Q697.1 695.8 395.6 677"/>
<path d="M713.3 998.1Q697 696.5 401.8 632.7"/>
<path d="M713.3 998.1Q685.6 697.1 401.8 632.7"/>
<path d="M713.3 998.1Q697 696.5 403.6 625"/>
<path d="M713.3 998.1Q687.2 699 403.6 625"/>
<path d="M713.3 998.1Q697 696.5 433.9 548.2"/>
<path d="M713.3 998.1Q690.9 695.4 433.9 548.2"/>
<path d="M713.3 998.1Q697 696.5 459 510.6"/>
<path d="M713.3 998.1Q694.3 696.5 459 510.6"/>
<path d="M713.3 998.1Q697 696.5 496.9 470.3"/>
<path d="M713.3 998.1Q686.4 700.4 496.9 470.3"/>
<path d="M706.5 998.4Q697 696.5 581.4 975.5"/>
<path d="M706.5 998.4Q707.2 693.8 581.4 975.5"/>
<path d="M706.5 998.4Q697 696.5 565.1 968.2"/>
<path d="M706.5 998.4Q705.7 706.5 565.1 968.2"/>
<path d="M706.5 998.4Q697 696.5 502.9 927.8"/>
<path d="M706.5 998.4Q688.1 687.8 502.9 927.8"/>
<path d="M706.5 998.4Q697 696.5 418.4 813"/>
<path d="M706.5 998.4Q695 698.9 418.4 813"/>
<path d="M706.5 998.4Q697 696.5 395 693.9"/>
<path d="M706.5 998.4Q703 699.7 395 693.9"/>
<path d="M706.5 998.4Q697 696.5 395.6 677"/>
<path d="M706.5 998.4Q706.3 692.1 395.6 677"/>
<path d="M706.5 998.4Q697 696.5 401.8 632.7"/>
<path d="M706.5 998.4Q702.5 690.7 401.8 632.7"/>
<path d="M706.5 998.4Q697 696.5 403.6 625"/>
<path d="M706.5 998.4Q704.8 705.2 403.6 625"/>
<path d="M706.5 998.4Q697 696.5 433.9 548.2"/>
<path d="M706.5 998.4Q686.6 688.8 433.9 548.2"/>
<path d="M706.5 998.4Q697 696.5 459 510.6"/>
<path d="M706.5 998.4Q694.1 683.3 459 510.6"/>
<path d="M706.5 998.4Q697 696.5 496.9 470.3"/>
<path d="M706.5 998.4Q690.3 706.5 496.9 470.3"/>
<path d="M581.4 975.5Q697 696.5 502.9 927.8"/>
<path d="M581.4 975.5Q708.4 691.3 502.9 927.8"/>
<path d="M581.4 975.5Q697 696.5 418.4 813"/>
<path d="M581.4 975.5Q685 701.5 418.4 813"/>
<path d="M581.4 975.5Q697 696.5 395 693.9"/>
<path d="M581.4 975.5Q684.9 697.6 395 693.9"/>
<path d="M581.4 975.5Q697 696.5 395.6 677"/>
<path d="M581.4 975.5Q701.5 697.7 395.6 677"/>
<path d="M581.4 975.5Q697 696.5 401.8 632.7"/>
<path d="M581.4 975.5Q698.2 700.2 401.8 632.7"/>
<path d="M581.4 975.5Q697 696.5 403.6 625"/>
<path d="M581.4 975.5Q691.4 696.6 403.6 625"/>
<path d="M581.4 975.5Q697 696.5 433.9 548.2"/>
<path d="M581.4 975.5Q685.6 693.8 433.9 548.2"/>
<path d="M581.4 975.5Q697 696.5 459 510.6"/>
<path d="M581.4 975.5Q691.6 689.2 459 510.6"/>
<path d="M581.4 975.5Q697 696.5 496.9 470.3"/>
<path d="M581.4 975.5Q689.5 698.2 496.9 470.3"/>
<path d="M565.1 968.2Q697 696.5 418.4 813"/>
<path d="M565.1 968.2Q687.1 703.6 418.4 813"/>
<path d="M565.1 968.2Q697 696.5 395 693.9"/>
<path d="M565.1 968.2Q701.8 693 395 693.9"/>
<path d="M565.1 968.2Q697 696.5 395.6 677"/>
<path d="M565.1 968.2Q689 705.3 395.6 677"/>
<path d="M565.1 968.2Q697 696.5 401.8 632.7"/>
<path d="M565.1 968.2Q688.6 694.9 401.8 632.7"/>
<path d="M565.1 968.2Q697 696.5 403.6 625"/>
<path d="M565.1 968.2Q698.8 707.2 403.6 625"/>
<path d="M565.1 968.2Q697 696.5 433.9 548.2"/>
<path d="M565.1 968.2Q697.2 697.2 433.9 548.2"/>
<path d="M565.1 968.2Q697 696.5 459 510.6"/>
<path d="M565.1 968.2Q704.7 706.2 459 510.6"/>
<path d="M565.1 968.2Q697 696.5 496.9 470.3"/>
<path d="M565.1 968.2Q700.2 705.4 496.9 470.3"/>
<path d="M502.9 927.8Q697 696.5 418.4 813"/>
<path d="M502.9 927.8Q700.1 702.1 418.4 813"/>
<path d="M502.9 927.8Q697 696.5 395 693.9"/>
<path d="M502.9 927.8Q701.4 704.2 395 693.9"/>
<path d="M502.9 927.8Q697 696.5 395.6 677"/>
<path d="M502.9 927.8Q698.8 698 395.6 677"/>
<path d="M502.9 927.8Q697 696.5 401.8 632.7"/>
<path d="M502.9 927.8Q691.3 696.9 401.8 632.7"/>
<path d="M502.9 927.8Q697 696.5 403.6 625"/>
<path d="M502.9 927.8Q700.4 697 403.6 625"/>
<path d="M502.9 927.8Q697 696.5 433.9 548.2"/>
<path d="M502.9 927.8Q689.2 701.6 433.9 548.2"/>
<path d="M502.9 927.8Q697 696.5 459 510.6"/>
<path d="M502.9 927.8Q708.1 700.2 459 510.6"/>
<path d="M502.9 927.8Q697 696.5 496.9 470.3"/>
<path d="M502.9 927.8Q689.9 701.9 496.9 470.3"/>
<path d="M418.4 813Q697 696.5 395 693.9"/>
<path d="M418.4 813Q699.2 696 395 693.9"/>
<path d="M418.4 813Q697 696.5 395.6 677"/>
<path d="M418.4 813Q702.4 700.2 395.6 677"/>
<path d="M418.4 813Q697 696.5 401.8 632.7"/>
<path d="M418.4 813Q701.9 704.8 401.8 632.7"/>
<path d="M418.4 813Q697 696.5 403.6 625"/>
<path d="M418.4 813Q690.7 705.6 403.6 625"/>
<path d="M418.4 813Q697 696.5 433.9 548.2"/>
<path d="M418.4 813Q701.7 698.1 433.9 548.2"/>
<path d="M418.4 813Q697 696.5 459 510.6"/>
<path d="M418.4 813Q695.1 708.3 459 510.6"/>
<path d="M418.4 813Q697 696.5 496.9 470.3"/>
<path d="M418.4 813Q684.9 699.2 496.9 470.3"/>
<path d="M395 693.9Q697 696.5 433.9 548.2"/>
<path d="M395 693.9Q692.8 709.3 433.9 548.2"/>
<path d="M395 693.9Q697 696.5 459 510.6"/>
<path d="M395 693.9Q696.3 703.5 459 510.6"/>
<path d="M395 693.9Q697 696.5 496.9 470.3"/>
<path d="M395 693.9Q688.3 687.3 496.9 470.3"/>
<path d="M395.6 677Q697 696.5 433.9 548.2"/>
<path d="M395.6 677Q703.8 701.1 433.9 548.2"/>
<path d="M395.6 677Q697 696.5 459 510.6"/>
<path d="M395.6 677Q708.4 694.3 459 510.6"/>
<path d="M395.6 677Q697 696.5 496.9 470.3"/>
<path d="M395.6 677Q707.8 696.7 496.9 470.3"/>
<path d="M401.8 632.7Q697 696.5 433.9 548.2"/>
<path d="M401.8 632.7Q699.1 697.8 433.9 548.2"/>
<path d="M401.8 632.7Q697 696.5 459 510.6"/>
<path d="M401.8 632.7Q702.6 697.8 459 510.6"/>
<path d="M401.8 632.7Q697 696.5 496.9 470.3"/>
<path d="M401.8 632.7Q695.2 693.8 496.9 470.3"/>
<path d="M403.6 625Q697 696.5 433.9 548.2"/>
<path d="M403.6 625Q701.1 709.2 433.9 548.2"/>
<path d="M403.6 625Q697 696.5 459 510.6"/>
<path d="M403.6 625Q683.3 698.5 459 510.6"/>
<path d="M403.6 625Q697 696.5 496.9 470.3"/>
<path d="M403.6 625Q707.9 690.3 496.9 470.3"/>
<path d="M433.9 548.2Q697 696.5 496.9 470.3"/>
<path d="M433.9 548.2Q710.3 699.4 496.9 470.3"/>
</g>
<path d="M702.4 82.3A614.2 614.2 0 0 1 922.9 125.3L898.9 186A549 549 0 0 0 701.8 147.5Z" fill="#dc1a8c" stroke="#505050" stroke-opacity="0.35" stroke-width="0.9"/>
<path d="M932.8 129.4A614.2 614.2 0 0 1 1097.5 230.8L1055 280.2A549 549 0 0 0 907.8 189.6Z" fill="#d45a42" stroke="#505050" stroke-opacity="0.35" stroke-width="0.9"/>
<path d="M1105.5 237.9A614.2 614.2 0 0 1 1216.6 369.1L1161.5 403.8A549 549 0 0 0 1062.2 286.6Z" fill="#e8a02a" stroke="#505050" stroke-opacity="0.35" stroke-width="0.9"/>
<path d="M1222.3 378.2A614.2 614.2 0 0 1 1289.5 534.8L1226.6 552A549 549 0 0 0 1166.5 412Z" fill="#dc1a8c" stroke="#505050" stroke-opacity="0.35" stroke-width="0.9"/>
<path d="M1292.3 545.2A614.2 614.2 0 0 1 1310.9 714.8L1245.8 712.9A549 549 0 0 0 1229.1 561.3Z" fill="#d45a42" stroke="#505050" stroke-opacity="0.35" stroke-width="0.9"/>
<path d="M1310.5 725.5A614.2 614.2 0 0 1 1279.9 890.1L1218 869.5A549 549 0 0 0 1245.4 722.4Z" fill="#e8a02a" stroke="#505050" stroke-opacity="0.35" stroke-width="0.9"/>
<path d="M1276.4 900.2A614.2 614.2 0 0 1 1205.7 1040.7L1151.7 1004.2A549 549 0 0 0 1214.9 878.6Z" fill="#dc1a8c" stroke="#505050" stroke-opacity="0.35" stroke-width="0.9"/>
<path d="M1199.6 1049.6A614.2 614.2 0 0 1 1090.5 1168.1L1048.7 1118A549 549 0 0 0 1146.2 1012.1Z" fill="#d45a42" stroke="#505050" stroke-opacity="0.35" stroke-width="0.9"/>
<path d="M1082.2 1174.9A614.2 614.2 0 0 1 954.9 1254L927.5 1194.8A549 549 0 0 0 1041.3 1124.1Z" fill="#e8a02a" stroke="#505050" stroke-opacity="0.35" stroke-width="0.9"/>
<path d="M945.1 1258.4A614.2 614.2 0 0 1 804.6 1301.2L793.1 1237A549 549 0 0 0 918.8 1198.7Z" fill="#dc1a8c" stroke="#505050" stroke-opacity="0.35" stroke-width="0.9"/>
<path d="M794 1303A614.2 614.2 0 0 1 642 1308.2L647.8 1243.3A549 549 0 0 0 783.7 1238.6Z" fill="#d45a42" stroke="#505050" stroke-opacity="0.35" stroke-width="0.9"/>
<path d="M631.3 1307.2A614.2 614.2 0 0 1 509.9 1281.5L529.8 1219.4A549 549 0 0 0 638.3 1242.4Z" fill="#e8a02a" stroke="#505050" stroke-opacity="0.35" stroke-width="0.9"/>
<path d="M499.7 1278.2A614.2 614.2 0 0 1 391.4 1229.3L423.9 1172.7A549 549 0 0 0 520.7 1216.4Z" fill="#dc1a8c" stroke="#505050" stroke-opacity="0.35" stroke-width="0.9"/>
<path d="M382.2 1223.9A614.2 614.2 0 0 1 287.7 1154.4L331.1 1105.8A549 549 0 0 0 415.6 1167.9Z" fill="#d45a42" stroke="#505050" stroke-opacity="0.35" stroke-width="0.9"/>
<path d="M279.8 1147.2A614.2 614.2 0 0 1 199.5 1056.7L252.3 1018.5A549 549 0 0 0 324.1 1099.4Z" fill="#e8a02a" stroke="#505050" stroke-opacity="0.35" stroke-width="0.9"/>
<path d="M193.3 1048A614.2 614.2 0 0 1 136.5 947.6L196 921A549 549 0 0 0 246.8 1010.7Z" fill="#dc1a8c" stroke="#505050" stroke-opacity="0.35" stroke-width="0.9"/>
<path d="M132.2 937.8A614.2 614.2 0 0 1 99.5 838.9L163 823.8A549 549 0 0 0 192.1 912.2Z" fill="#d45a42" stroke="#505050" stroke-opacity="0.35" stroke-width="0.9"/>
<path d="M97.1 828.5A614.2 614.2 0 0 1 84 735.6L149.1 731.5A549 549 0 0 0 160.8 814.4Z" fill="#e8a02a" stroke="#505050" stroke-opacity="0.35" stroke-width="0.9"/>
<path d="M83.5 724.9A614.2 614.2 0 0 1 85.9 634.6L150.8 641.2A549 549 0 0 0 148.6 721.9Z" fill="#dc1a8c" stroke="#505050" stroke-opacity="0.35" stroke-width="0.9"/>
<path d="M87.1 624A614.2 614.2 0 0 1 107.6 523.6L170.2 541.9A549 549 0 0 0 151.8 631.7Z" fill="#d45a42" stroke="#505050" stroke-opacity="0.35" stroke-width="0.9"/>
<path d="M110.8 513.3A614.2 614.2 0 0 1 148 421.1L206.3 450.3A549 549 0 0 0 173 532.8Z" fill="#e8a02a" stroke="#505050" stroke-opacity="0.35" stroke-width="0.9"/>
<path d="M152.9 411.6A614.2 614.2 0 0 1 198.4 337.9L251.3 376A549 549 0 0 0 210.7 441.8Z" fill="#dc1a8c" stroke="#505050" stroke-opacity="0.35" stroke-width="0.9"/>
<path d="M204.7 329.3A614.2 614.2 0 0 1 253 272.1L300.1 317.2A549 549 0 0 0 256.9 368.2Z" fill="#d45a42" stroke="#505050" stroke-opacity="0.35" stroke-width="0.9"/>
<path d="M260.4 264.5A614.2 614.2 0 0 1 327.3 206.1L366.5 258.1A549 549 0 0 0 306.8 310.3Z" fill="#e8a02a" stroke="#505050" stroke-opacity="0.35" stroke-width="0.9"/>
<path d="M335.9 199.7A614.2 614.2 0 0 1 386.4 166.6L419.3 222.9A549 549 0 0 0 374.2 252.4Z" fill="#dc1a8c" stroke="#505050" stroke-opacity="0.35" stroke-width="0.9"/>
<path d="M395.7 161.3A614.2 614.2 0 0 1 462.3 128.9L487.2 189.2A549 549 0 0 0 427.7 218.1Z" fill="#d45a42" stroke="#505050" stroke-opacity="0.35" stroke-width="0.9"/>
<path d="M472.2 124.9A614.2 614.2 0 0 1 533.9 104.4L551.2 167.2A549 549 0 0 0 496.1 185.6Z" fill="#e8a02a" stroke="#505050" stroke-opacity="0.35" stroke-width="0.9"/>
<path d="M544.2 101.6A614.2 614.2 0 0 1 608.4 88.7L617.8 153.2A549 549 0 0 0 560.4 164.8Z" fill="#dc1a8c" stroke="#505050" stroke-opacity="0.35" stroke-width="0.9"/>
<path d="M619 87.3A614.2 614.2 0 0 1 691.6 82.3L692.2 147.5A549 549 0 0 0 627.3 151.9Z" fill="#d45a42" stroke="#505050" stroke-opacity="0.35" stroke-width="0.9"/>
<path d="M702.4 82.3L702.4 77.3M725.2 82.9L725.3 79.9M747.9 84.4L748.2 81.4M770.6 86.7L771 83.7M793.2 89.9L793.7 86.9M815.6 93.9L816.6 89M837.9 98.7L838.6 95.8M860 104.3L860.8 101.4M881.9 110.8L882.8 107.9M903.5 118.1L904.5 115.2M932.8 129.4L934.7 124.8M953.7 138.5L955 135.8M974.3 148.4L975.6 145.8M994.4 159.1L995.9 156.5M1014.2 170.5L1015.7 167.9M1033.5 182.7L1036.2 178.5M1052.3 195.5L1054 193.1M1070.7 209L1072.5 206.7M1088.5 223.2L1090.4 220.9M1105.5 237.9L1108.9 234.1M1122.3 253.3L1124.3 251.2M1138.4 269.4L1140.6 267.4M1154 286.1L1156.2 284.1M1168.9 303.4L1171.2 301.4M1183.2 321.2L1187.1 318.1M1196.8 339.5L1199.2 337.7M1209.7 358.3L1212.2 356.6M1222.3 378.2L1226.5 375.6M1233.7 397.9L1236.3 396.4M1244.4 418L1247.1 416.7M1254.4 438.5L1257.1 437.3M1263.6 459.4L1266.4 458.2M1272 480.6L1276.7 478.8M1279.6 502.1L1282.5 501.1M1286.4 523.9L1289.3 523M1292.3 545.2L1297.1 544M1297.5 567.4L1300.4 566.8M1301.9 589.8L1304.8 589.3M1305.4 612.3L1308.4 611.9M1308.1 634.9L1311.1 634.6M1310 657.7L1315 657.4M1311 680.5L1314 680.4M1311.2 703.3L1314.2 703.3M1310.5 725.5L1315.5 725.7M1309 748.3L1312 748.5M1306.7 770.9L1309.6 771.3M1303.5 793.5L1306.5 794M1299.5 816L1302.4 816.6M1294.6 838.3L1299.5 839.4M1288.9 860.3L1291.8 861.1M1282.5 882.2L1285.3 883.1M1276.4 900.2L1281.1 901.9M1268.5 921.6L1271.3 922.7M1259.7 942.7L1262.5 943.9M1250.2 963.4L1252.9 964.7M1239.9 983.7L1242.6 985.1M1228.9 1003.7L1233.2 1006.2M1217.1 1023.2L1219.6 1024.8M1199.6 1049.6L1203.7 1052.4M1186.1 1068L1188.5 1069.8M1172 1085.9L1174.3 1087.8M1157.2 1103.2L1159.5 1105.2M1141.8 1120L1144 1122.1M1125.8 1136.3L1129.3 1139.8M1109.2 1151.9L1111.2 1154.1M1092 1166.9L1093.9 1169.2M1082.2 1174.9L1085.4 1178.8M1064.2 1188.8L1066 1191.2M1045.7 1202.1L1047.4 1204.6M1026.7 1214.7L1028.3 1217.3M1007.2 1226.6L1008.7 1229.2M987.3 1237.8L989.7 1242.2M967 1248.2L968.3 1250.9M945.1 1258.4L947.1 1262.9M924.1 1267.2L925.2 1270M902.7 1275.2L903.7 1278.1M881.1 1282.5L882 1285.3M859.2 1288.9L860 1291.8M837.1 1294.5L838.2 1299.4M814.8 1299.3L815.4 1302.2M794 1303L794.8 1307.9M771.4 1306.2L771.8 1309.2M748.7 1308.5L749 1311.5M726 1310L726.1 1313M703.2 1310.7L703.2 1313.7M680.4 1310.5L680.2 1315.5M657.6 1309.4L657.4 1312.4M631.3 1307.2L630.8 1312.2M608.7 1304.3L608.3 1307.3M586.2 1300.6L585.7 1303.6M563.8 1296.1L563.2 1299M541.7 1290.7L540.9 1293.6M519.7 1284.6L518.3 1289.3M499.7 1278.2L498.1 1282.9M478.3 1270.4L477.2 1273.2M457.1 1261.9L455.9 1264.7M436.3 1252.6L435 1255.3M415.8 1242.6L414.4 1245.2M395.7 1231.7L393.3 1236.1M382.2 1223.9L379.6 1228.2M362.8 1211.8L361.2 1214.4M343.9 1199.1L342.2 1201.5M325.5 1185.6L323.7 1188M307.6 1171.5L305.7 1173.8M290.3 1156.7L286.9 1160.5M279.8 1147.2L276.4 1150.9M263.3 1131.4L261.2 1133.6M247.5 1115L245.3 1117.1M232.2 1098.1L230 1100M217.7 1080.5L215.3 1082.4M203.7 1062.5L199.7 1065.4M193.3 1048L189.2 1050.8M180.6 1029L178.1 1030.7M168.6 1009.6L166 1011.2M157.4 989.8L154.7 991.2M146.8 969.6L144.2 970.9M137.1 949L132.5 951M132.2 937.8L127.6 939.8M123.6 916.7L120.8 917.8M115.8 895.2L113 896.2M108.9 873.5L106 874.4M102.7 851.6L99.8 852.3M97.1 828.5L92.3 829.5M92.7 806.1L89.7 806.6M89 783.6L86 784M86.2 761L83.2 761.3M84.2 738.2L81.2 738.4M83.5 724.9L78.5 725.2M82.8 702.1L79.8 702.2M83 679.3L80 679.3M84.1 656.6L81.1 656.4M87.1 624L82.1 623.4M90.2 601.4L87.2 600.9M94.2 578.9L91.2 578.3M98.9 556.6L96 555.9M104.5 534.5L101.7 533.7M110.8 513.3L106 511.8M118 491.7L115.1 490.7M126 470.3L123.2 469.2M134.7 449.3L132 448.1M144.3 428.6L141.6 427.3M152.9 411.6L148.5 409.2M163.9 391.6L161.2 390.1M175.5 372L173 370.4M187.9 352.8L185.5 351.2M204.7 329.3L200.7 326.3M218.7 311.2L216.3 309.3M233.3 293.7L231 291.8M248.6 276.8L246.4 274.8M260.4 264.5L256.9 260.9M276.8 248.6L274.7 246.4M293.7 233.3L291.7 231M311.2 218.6L309.3 216.3M335.9 199.7L332.9 195.6M354.6 186.6L352.9 184.1M373.7 174.3L372.2 171.7M395.7 161.3L393.2 156.9M415.7 150.5L414.4 147.8M436.2 140.4L434.9 137.7M457 131.1L455.9 128.4M472.2 124.9L470.4 120.3M493.6 117L492.6 114.1M515.2 109.8L514.4 106.9M544.2 101.6L543 96.8M566.4 96.3L565.8 93.4M588.8 91.9L588.3 89M619 87.3L618.4 82.3M641.7 84.8L641.4 81.8M664.4 83.2L664.3 80.2M687.2 82.4L687.2 79.4" stroke="#111" stroke-width="1" fill="none"/>
<g font-family="Liberation Sans, sans-serif" font-size="10.5" font-weight="bold" fill="#111">
<text x="708.4" y="75.6" dy="3.8" text-anchor="start" transform="rotate(-89 708.4 75.6)">0MB</text>
<text x="818" y="87.4" dy="3.8" text-anchor="start" transform="rotate(-78.8 818 87.4)">80MB</text>
<text x="940.9" y="125.4" dy="3.8" text-anchor="start" transform="rotate(-66.9 940.9 125.4)">0MB</text>
<text x="1038.1" y="177.6" dy="3.8" text-anchor="start" transform="rotate(-56.7 1038.1 177.6)">80MB</text>
<text x="1114.5" y="236.8" dy="3.8" text-anchor="start" transform="rotate(-47.8 1114.5 236.8)">0MB</text>
<text x="1189.2" y="317.9" dy="3.8" text-anchor="start" transform="rotate(-37.6 1189.2 317.9)">80MB</text>
<text x="1231.2" y="379.8" dy="3.8" text-anchor="start" transform="rotate(-30.7 1231.2 379.8)">0MB</text>
<text x="1278.8" y="479.2" dy="3.8" text-anchor="start" transform="rotate(-20.5 1278.8 479.2)">80MB</text>
<text x="1300.3" y="549.3" dy="3.8" text-anchor="start" transform="rotate(-13.7 1300.3 549.3)">0MB</text>
<text x="1316.8" y="658.3" dy="3.8" text-anchor="start" transform="rotate(-3.5 1316.8 658.3)">80MB</text>
<text x="1317" y="731.8" dy="3.8" text-anchor="start" transform="rotate(3.3 1317 731.8)">0MB</text>
<text x="1301" y="840.9" dy="3.8" text-anchor="start" transform="rotate(13.4 1301 840.9)">80MB</text>
<text x="1280.8" y="908.1" dy="3.8" text-anchor="start" transform="rotate(19.9 1280.8 908.1)">0MB</text>
<text x="1234.2" y="1008" dy="3.8" text-anchor="start" transform="rotate(30.1 1234.2 1008)">80MB</text>
<text x="1201.7" y="1058.3" dy="3.8" text-anchor="start" transform="rotate(35.6 1201.7 1058.3)">0MB</text>
<text x="1129.7" y="1141.9" dy="3.8" text-anchor="start" transform="rotate(45.8 1129.7 1141.9)">80MB</text>
<text x="1081.8" y="1183.9" dy="3.8" text-anchor="start" transform="rotate(51.7 1081.8 1183.9)">0MB</text>
<text x="989.6" y="1244.3" dy="3.8" text-anchor="start" transform="rotate(61.9 989.6 1244.3)">80MB</text>
<text x="942.4" y="1267" dy="3.8" text-anchor="start" transform="rotate(66.7 942.4 1267)">0MB</text>
<text x="837.6" y="1301.4" dy="3.8" text-anchor="start" transform="rotate(76.9 837.6 1301.4)">80MB</text>
<text x="789.2" y="1310.6" dy="3.8" text-anchor="start" transform="rotate(81.5 789.2 1310.6)">0MB</text>
<text x="679.1" y="1317.2" dy="3.8" text-anchor="end" transform="rotate(271.7 679.1 1317.2)">80MB</text>
<text x="624.7" y="1313.3" dy="3.8" text-anchor="end" transform="rotate(276.7 624.7 1313.3)">0MB</text>
<text x="516.7" y="1290.8" dy="3.8" text-anchor="end" transform="rotate(286.9 516.7 1290.8)">80MB</text>
<text x="491.9" y="1282.7" dy="3.8" text-anchor="end" transform="rotate(289.3 491.9 1282.7)">0MB</text>
<text x="391.5" y="1237.1" dy="3.8" text-anchor="end" transform="rotate(299.5 391.5 1237.1)">80MB</text>
<text x="373.6" y="1226.6" dy="3.8" text-anchor="end" transform="rotate(301.4 373.6 1226.6)">0MB</text>
<text x="284.9" y="1161.1" dy="3.8" text-anchor="end" transform="rotate(311.6 284.9 1161.1)">80MB</text>
<text x="270.8" y="1148.1" dy="3.8" text-anchor="end" transform="rotate(313.3 270.8 1148.1)">0MB</text>
<text x="197.6" y="1065.6" dy="3.8" text-anchor="end" transform="rotate(323.5 197.6 1065.6)">80MB</text>
<text x="184.3" y="1047" dy="3.8" text-anchor="end" transform="rotate(325.6 184.3 1047)">0MB</text>
<text x="130.4" y="950.8" dy="3.8" text-anchor="end" transform="rotate(335.8 130.4 950.8)">80MB</text>
<text x="123.6" y="935" dy="3.8" text-anchor="end" transform="rotate(337.4 123.6 935)">0MB</text>
<text x="89.2" y="824.1" dy="3.8" text-anchor="end" transform="rotate(348.1 89.2 824.1)">0MB</text>
<text x="76.4" y="719.3" dy="3.8" text-anchor="end" transform="rotate(357.9 76.4 719.3)">0MB</text>
<text x="81.1" y="617.2" dy="3.8" text-anchor="end" transform="rotate(367.3 81.1 617.2)">0MB</text>
<text x="106.1" y="505.6" dy="3.8" text-anchor="end" transform="rotate(377.9 106.1 505.6)">0MB</text>
<text x="149.7" y="403.1" dy="3.8" text-anchor="end" transform="rotate(388.2 149.7 403.1)">0MB</text>
<text x="202.8" y="320.4" dy="3.8" text-anchor="end" transform="rotate(397.3 202.8 320.4)">0MB</text>
<text x="259.8" y="255.5" dy="3.8" text-anchor="end" transform="rotate(405.3 259.8 255.5)">0MB</text>
<text x="336.7" y="190.7" dy="3.8" text-anchor="end" transform="rotate(414.5 336.7 190.7)">0MB</text>
<text x="397.5" y="152.5" dy="3.8" text-anchor="end" transform="rotate(421.2 397.5 152.5)">0MB</text>
<text x="475.3" y="116.4" dy="3.8" text-anchor="end" transform="rotate(429.1 475.3 116.4)">0MB</text>
<text x="548.3" y="93.6" dy="3.8" text-anchor="end" transform="rotate(436.1 548.3 93.6)">0MB</text>
<text x="624.1" y="79.8" dy="3.8" text-anchor="end" transform="rotate(443.3 624.1 79.8)">0MB</text>
</g>
<g font-family="Liberation Sans, sans-serif" font-size="21" fill="#111" stroke="#111" stroke-width="0.3" text-anchor="middle">
<text x="824.1" y="44.8" transform="rotate(11 824.1 44.8)">chr1</text>
<text x="1045.3" y="131.2" transform="rotate(31.6 1045.3 131.2)">chr2</text>
<text x="1203.7" y="267.4" transform="rotate(49.7 1203.7 267.4)">chr3</text>
<text x="1307.1" y="434.5" transform="rotate(66.8 1307.1 434.5)">chr4</text>
<text x="1357" y="623.9" transform="rotate(83.7 1357 623.9)">chr5</text>
<text x="1368" y="821.3" transform="rotate(-79.5 1368 821.3)">chr6</text>
<text x="1306.6" y="1003.5" transform="rotate(-63.3 1306.6 1003.5)">chr7</text>
<text x="1199.2" y="1158.7" transform="rotate(-47.4 1199.2 1158.7)">chr8</text>
<text x="1057" y="1276.3" transform="rotate(-31.8 1057 1276.3)">chr9</text>
<text x="896" y="1349.3" transform="rotate(-17 896 1349.3)">chr10</text>
<text x="720.5" y="1378.6" transform="rotate(-2 720.5 1378.6)">chr11</text>
<text x="555.8" y="1364.2" transform="rotate(11.9 555.8 1364.2)">chr12</text>
<text x="416.3" y="1318.6" transform="rotate(24.3 416.3 1318.6)">chr13</text>
<text x="292.8" y="1246.5" transform="rotate(36.3 292.8 1246.5)">chr14</text>
<text x="186.3" y="1149.3" transform="rotate(48.4 186.3 1149.3)">chr15</text>
<text x="103.1" y="1032.8" transform="rotate(60.5 103.1 1032.8)">chr16</text>
<text x="48.9" y="910.5" transform="rotate(71.7 48.9 910.5)">chr17</text>
<text x="21.2" y="791.8" transform="rotate(82 21.2 791.8)">chr18</text>
<text x="33.2" y="678.4" transform="rotate(271.6 33.2 678.4)">chr19</text>
<text x="46.5" y="563.4" transform="rotate(281.6 46.5 563.4)">chr20</text>
<text x="81.3" y="447.8" transform="rotate(292 81.3 447.8)">chr21</text>
<text x="131.9" y="347.8" transform="rotate(301.7 131.9 347.8)">chr22</text>
<text x="189.9" y="267.8" transform="rotate(310.2 189.9 267.8)">chr23</text>
<text x="260" y="196.6" transform="rotate(318.8 260 196.6)">chr24</text>
<text x="333.5" y="140.9" transform="rotate(326.8 333.5 140.9)">chr25</text>
<text x="406.7" y="99.3" transform="rotate(334.1 406.7 99.3)">chr26</text>
<text x="487" y="66.6" transform="rotate(341.6 487 66.6)">chr27</text>
<text x="566.3" y="45.5" transform="rotate(348.7 566.3 45.5)">chr28</text>
<text x="651.9" y="34" transform="rotate(356.1 651.9 34)">chr29</text>
</g>
<path d="M701.6 172.3A524.2 524.2 0 0 1 889.8 209L866 269.1A459.6 459.6 0 0 0 701 236.9Z" fill="#e0c428" stroke="#505050" stroke-opacity="0.35" stroke-width="0.9"/>
<path d="M701.1 221.7A474.8 474.8 0 0 1 871.6 255" fill="none" stroke="#8a7612" stroke-width="1.1"/>
<path d="M701.4 190.1A506.4 506.4 0 0 1 883.2 225.6" fill="none" stroke="#8a7612" stroke-width="1.1"/>
<path d="M898.3 212.5A524.2 524.2 0 0 1 1038.8 299L996.7 348A459.6 459.6 0 0 0 873.5 272.1Z" fill="#e0c428" stroke="#505050" stroke-opacity="0.35" stroke-width="0.9"/>
<path d="M879.3 258.1A474.8 474.8 0 0 1 1006.6 336.5" fill="none" stroke="#8a7612" stroke-width="1.1"/>
<path d="M891.4 228.9A506.4 506.4 0 0 1 1027.2 312.5" fill="none" stroke="#8a7612" stroke-width="1.1"/>
<path d="M1045.7 305.1A524.2 524.2 0 0 1 1140.5 417L1085.8 451.5A459.6 459.6 0 0 0 1002.7 353.3Z" fill="#e0c428" stroke="#505050" stroke-opacity="0.35" stroke-width="0.9"/>
<path d="M1012.8 342A474.8 474.8 0 0 1 1098.7 443.4" fill="none" stroke="#8a7612" stroke-width="1.1"/>
<path d="M1033.8 318.4A506.4 506.4 0 0 1 1125.4 426.5" fill="none" stroke="#8a7612" stroke-width="1.1"/>
<path d="M1145.3 424.8A524.2 524.2 0 0 1 1202.7 558.5L1140.4 575.5A459.6 459.6 0 0 0 1090.1 458.3Z" fill="#e0c428" stroke="#505050" stroke-opacity="0.35" stroke-width="0.9"/>
<path d="M1103.1 450.4A474.8 474.8 0 0 1 1155.1 571.5" fill="none" stroke="#8a7612" stroke-width="1.1"/>
<path d="M1130.1 434A506.4 506.4 0 0 1 1185.5 563.2" fill="none" stroke="#8a7612" stroke-width="1.1"/>
<path d="M1205 567.4A524.2 524.2 0 0 1 1221 712.1L1156.4 710.2A459.6 459.6 0 0 0 1142.4 583.3Z" fill="#e0c428" stroke="#505050" stroke-opacity="0.35" stroke-width="0.9"/>
<path d="M1157.2 579.5A474.8 474.8 0 0 1 1171.6 710.6" fill="none" stroke="#8a7612" stroke-width="1.1"/>
<path d="M1187.8 571.8A506.4 506.4 0 0 1 1203.2 711.6" fill="none" stroke="#8a7612" stroke-width="1.1"/>
<path d="M1220.6 721.3A524.2 524.2 0 0 1 1194.5 861.7L1133.2 841.4A459.6 459.6 0 0 0 1156.1 718.2Z" fill="#e0c428" stroke="#505050" stroke-opacity="0.35" stroke-width="0.9"/>
<path d="M1171.3 718.9A474.8 474.8 0 0 1 1147.6 846.1" fill="none" stroke="#8a7612" stroke-width="1.1"/>
<path d="M1202.8 720.4A506.4 506.4 0 0 1 1177.6 856.1" fill="none" stroke="#8a7612" stroke-width="1.1"/>
<path d="M1191.5 870.4A524.2 524.2 0 0 1 1131.1 990.3L1077.6 954.1A459.6 459.6 0 0 0 1130.6 848.9Z" fill="#e0c428" stroke="#505050" stroke-opacity="0.35" stroke-width="0.9"/>
<path d="M1144.9 854A474.8 474.8 0 0 1 1090.2 962.6" fill="none" stroke="#8a7612" stroke-width="1.1"/>
<path d="M1174.7 864.5A506.4 506.4 0 0 1 1116.4 980.3" fill="none" stroke="#8a7612" stroke-width="1.1"/>
<path d="M1125.9 997.8A524.2 524.2 0 0 1 1032.9 1099L991.5 1049.4A459.6 459.6 0 0 0 1073.1 960.7Z" fill="#e0c428" stroke="#505050" stroke-opacity="0.35" stroke-width="0.9"/>
<path d="M1085.5 969.4A474.8 474.8 0 0 1 1001.2 1061" fill="none" stroke="#8a7612" stroke-width="1.1"/>
<path d="M1111.4 987.6A506.4 506.4 0 0 1 1021.5 1085.3" fill="none" stroke="#8a7612" stroke-width="1.1"/>
<path d="M1025.8 1104.8A524.2 524.2 0 0 1 917.1 1172.3L889.9 1113.6A459.6 459.6 0 0 0 985.3 1054.5Z" fill="#e0c428" stroke="#505050" stroke-opacity="0.35" stroke-width="0.9"/>
<path d="M994.8 1066.3A474.8 474.8 0 0 1 896.3 1127.4" fill="none" stroke="#8a7612" stroke-width="1.1"/>
<path d="M1014.6 1090.9A506.4 506.4 0 0 1 909.6 1156.1" fill="none" stroke="#8a7612" stroke-width="1.1"/>
<path d="M908.7 1176A524.2 524.2 0 0 1 788.8 1212.6L777.5 1149A459.6 459.6 0 0 0 882.6 1116.9Z" fill="#e0c428" stroke="#505050" stroke-opacity="0.35" stroke-width="0.9"/>
<path d="M888.8 1130.8A474.8 474.8 0 0 1 780.2 1164" fill="none" stroke="#8a7612" stroke-width="1.1"/>
<path d="M901.5 1159.8A506.4 506.4 0 0 1 785.7 1195.1" fill="none" stroke="#8a7612" stroke-width="1.1"/>
<path d="M779.8 1214.1A524.2 524.2 0 0 1 650.1 1218.6L655.8 1154.3A459.6 459.6 0 0 0 769.6 1150.3Z" fill="#e0c428" stroke="#505050" stroke-opacity="0.35" stroke-width="0.9"/>
<path d="M772 1165.3A474.8 474.8 0 0 1 654.5 1169.4" fill="none" stroke="#8a7612" stroke-width="1.1"/>
<path d="M777 1196.5A506.4 506.4 0 0 1 651.6 1200.9" fill="none" stroke="#8a7612" stroke-width="1.1"/>
<path d="M641 1217.7A524.2 524.2 0 0 1 537.3 1195.8L557 1134.3A459.6 459.6 0 0 0 647.9 1153.5Z" fill="#e0c428" stroke="#505050" stroke-opacity="0.35" stroke-width="0.9"/>
<path d="M646.2 1168.6A474.8 474.8 0 0 1 552.4 1148.7" fill="none" stroke="#8a7612" stroke-width="1.1"/>
<path d="M642.9 1200A506.4 506.4 0 0 1 542.7 1178.8" fill="none" stroke="#8a7612" stroke-width="1.1"/>
<path d="M528.6 1192.9A524.2 524.2 0 0 1 436.2 1151.2L468.4 1095.2A459.6 459.6 0 0 0 549.4 1131.7Z" fill="#e0c428" stroke="#505050" stroke-opacity="0.35" stroke-width="0.9"/>
<path d="M544.5 1146.1A474.8 474.8 0 0 1 460.8 1108.4" fill="none" stroke="#8a7612" stroke-width="1.1"/>
<path d="M534.3 1176.1A506.4 506.4 0 0 1 445.1 1135.8" fill="none" stroke="#8a7612" stroke-width="1.1"/>
<path d="M428.3 1146.6A524.2 524.2 0 0 1 347.7 1087.3L390.7 1039.2A459.6 459.6 0 0 0 461.4 1091.1Z" fill="#e0c428" stroke="#505050" stroke-opacity="0.35" stroke-width="0.9"/>
<path d="M453.6 1104.2A474.8 474.8 0 0 1 380.6 1050.5" fill="none" stroke="#8a7612" stroke-width="1.1"/>
<path d="M437.4 1131.3A506.4 506.4 0 0 1 359.5 1074.1" fill="none" stroke="#8a7612" stroke-width="1.1"/>
<path d="M340.9 1081.2A524.2 524.2 0 0 1 272.4 1003.9L324.7 966A459.6 459.6 0 0 0 384.8 1033.8Z" fill="#e0c428" stroke="#505050" stroke-opacity="0.35" stroke-width="0.9"/>
<path d="M374.5 1044.9A474.8 474.8 0 0 1 312.4 975" fill="none" stroke="#8a7612" stroke-width="1.1"/>
<path d="M353 1068.1A506.4 506.4 0 0 1 286.8 993.5" fill="none" stroke="#8a7612" stroke-width="1.1"/>
<path d="M267.1 996.5A524.2 524.2 0 0 1 218.6 910.8L277.6 884.4A459.6 459.6 0 0 0 320.1 959.5Z" fill="#e0c428" stroke="#505050" stroke-opacity="0.35" stroke-width="0.9"/>
<path d="M307.6 968.2A474.8 474.8 0 0 1 263.7 890.6" fill="none" stroke="#8a7612" stroke-width="1.1"/>
<path d="M281.7 986.3A506.4 506.4 0 0 1 234.9 903.6" fill="none" stroke="#8a7612" stroke-width="1.1"/>
<path d="M215 902.5A524.2 524.2 0 0 1 187.1 818L249.9 803.1A459.6 459.6 0 0 0 274.4 877.1Z" fill="#e0c428" stroke="#505050" stroke-opacity="0.35" stroke-width="0.9"/>
<path d="M260.4 883A474.8 474.8 0 0 1 235.1 806.6" fill="none" stroke="#8a7612" stroke-width="1.1"/>
<path d="M231.3 895.5A506.4 506.4 0 0 1 204.4 813.9" fill="none" stroke="#8a7612" stroke-width="1.1"/>
<path d="M185 809.1A524.2 524.2 0 0 1 173.9 729.9L238.3 725.8A459.6 459.6 0 0 0 248.1 795.2Z" fill="#e0c428" stroke="#505050" stroke-opacity="0.35" stroke-width="0.9"/>
<path d="M233.3 798.5A474.8 474.8 0 0 1 223.2 726.8" fill="none" stroke="#8a7612" stroke-width="1.1"/>
<path d="M202.4 805.3A506.4 506.4 0 0 1 191.6 728.8" fill="none" stroke="#8a7612" stroke-width="1.1"/>
<path d="M173.4 720.8A524.2 524.2 0 0 1 175.5 643.7L239.7 650.2A459.6 459.6 0 0 0 237.9 717.8Z" fill="#e0c428" stroke="#505050" stroke-opacity="0.35" stroke-width="0.9"/>
<path d="M222.7 718.5A474.8 474.8 0 0 1 224.6 648.7" fill="none" stroke="#8a7612" stroke-width="1.1"/>
<path d="M191.1 719.9A506.4 506.4 0 0 1 193.2 645.5" fill="none" stroke="#8a7612" stroke-width="1.1"/>
<path d="M176.5 634.6A524.2 524.2 0 0 1 194 548.9L256 567.1A459.6 459.6 0 0 0 240.6 642.2Z" fill="#e0c428" stroke="#505050" stroke-opacity="0.35" stroke-width="0.9"/>
<path d="M225.5 640.4A474.8 474.8 0 0 1 241.4 562.8" fill="none" stroke="#8a7612" stroke-width="1.1"/>
<path d="M194.1 636.7A506.4 506.4 0 0 1 211.1 553.9" fill="none" stroke="#8a7612" stroke-width="1.1"/>
<path d="M196.7 540.2A524.2 524.2 0 0 1 228.5 461.4L286.2 490.4A459.6 459.6 0 0 0 258.3 559.4Z" fill="#e0c428" stroke="#505050" stroke-opacity="0.35" stroke-width="0.9"/>
<path d="M243.8 554.9A474.8 474.8 0 0 1 272.6 483.6" fill="none" stroke="#8a7612" stroke-width="1.1"/>
<path d="M213.6 545.5A506.4 506.4 0 0 1 244.4 469.4" fill="none" stroke="#8a7612" stroke-width="1.1"/>
<path d="M232.6 453.3A524.2 524.2 0 0 1 271.4 390.4L323.9 428.2A459.6 459.6 0 0 0 289.9 483.3Z" fill="#e0c428" stroke="#505050" stroke-opacity="0.35" stroke-width="0.9"/>
<path d="M276.4 476.2A474.8 474.8 0 0 1 311.5 419.3" fill="none" stroke="#8a7612" stroke-width="1.1"/>
<path d="M248.4 461.6A506.4 506.4 0 0 1 285.9 400.8" fill="none" stroke="#8a7612" stroke-width="1.1"/>
<path d="M276.8 383.1A524.2 524.2 0 0 1 318 334.3L364.7 379A459.6 459.6 0 0 0 328.6 421.7Z" fill="#e0c428" stroke="#505050" stroke-opacity="0.35" stroke-width="0.9"/>
<path d="M316.4 412.6A474.8 474.8 0 0 1 353.7 368.5" fill="none" stroke="#8a7612" stroke-width="1.1"/>
<path d="M291.1 393.7A506.4 506.4 0 0 1 330.9 346.6" fill="none" stroke="#8a7612" stroke-width="1.1"/>
<path d="M324.4 327.8A524.2 524.2 0 0 1 381.4 277.9L420.3 329.5A459.6 459.6 0 0 0 370.3 373.2Z" fill="#e0c428" stroke="#505050" stroke-opacity="0.35" stroke-width="0.9"/>
<path d="M359.5 362.5A474.8 474.8 0 0 1 411.2 317.4" fill="none" stroke="#8a7612" stroke-width="1.1"/>
<path d="M337.1 340.3A506.4 506.4 0 0 1 392.2 292.1" fill="none" stroke="#8a7612" stroke-width="1.1"/>
<path d="M388.8 272.5A524.2 524.2 0 0 1 431.9 244.3L464.6 300A459.6 459.6 0 0 0 426.8 324.7Z" fill="#e0c428" stroke="#505050" stroke-opacity="0.35" stroke-width="0.9"/>
<path d="M417.8 312.4A474.8 474.8 0 0 1 456.9 286.9" fill="none" stroke="#8a7612" stroke-width="1.1"/>
<path d="M399.3 286.9A506.4 506.4 0 0 1 440.9 259.6" fill="none" stroke="#8a7612" stroke-width="1.1"/>
<path d="M439.8 239.7A524.2 524.2 0 0 1 496.7 212.1L521.4 271.8A459.6 459.6 0 0 0 471.5 296Z" fill="#e0c428" stroke="#505050" stroke-opacity="0.35" stroke-width="0.9"/>
<path d="M464.1 282.8A474.8 474.8 0 0 1 515.6 257.7" fill="none" stroke="#8a7612" stroke-width="1.1"/>
<path d="M448.6 255.2A506.4 506.4 0 0 1 503.5 228.5" fill="none" stroke="#8a7612" stroke-width="1.1"/>
<path d="M505.2 208.7A524.2 524.2 0 0 1 557.8 191.1L574.9 253.4A459.6 459.6 0 0 0 528.8 268.8Z" fill="#e0c428" stroke="#505050" stroke-opacity="0.35" stroke-width="0.9"/>
<path d="M523.2 254.6A474.8 474.8 0 0 1 570.9 238.8" fill="none" stroke="#8a7612" stroke-width="1.1"/>
<path d="M511.7 225.2A506.4 506.4 0 0 1 562.5 208.3" fill="none" stroke="#8a7612" stroke-width="1.1"/>
<path d="M566.6 188.8A524.2 524.2 0 0 1 621.4 177.8L630.7 241.7A459.6 459.6 0 0 0 582.7 251.3Z" fill="#e0c428" stroke="#505050" stroke-opacity="0.35" stroke-width="0.9"/>
<path d="M578.9 236.6A474.8 474.8 0 0 1 628.5 226.7" fill="none" stroke="#8a7612" stroke-width="1.1"/>
<path d="M571 206A506.4 506.4 0 0 1 623.9 195.4" fill="none" stroke="#8a7612" stroke-width="1.1"/>
<path d="M630.4 176.5A524.2 524.2 0 0 1 692.4 172.3L693 236.9A459.6 459.6 0 0 0 638.6 240.6Z" fill="#e0c428" stroke="#505050" stroke-opacity="0.35" stroke-width="0.9"/>
<path d="M636.7 225.5A474.8 474.8 0 0 1 692.9 221.7" fill="none" stroke="#8a7612" stroke-width="1.1"/>
<path d="M632.7 194.2A506.4 506.4 0 0 1 692.6 190.1" fill="none" stroke="#8a7612" stroke-width="1.1"/>
<g fill="#16083f">
<circle cx="742.5" cy="205.3" r="3.7"/>
<circle cx="766.2" cy="196.3" r="3.7"/>
<circle cx="747.9" cy="222.6" r="3.7"/>
<circle cx="829.2" cy="192.8" r="3.7"/>
<circle cx="848.2" cy="204.9" r="3.7"/>
<circle cx="851" cy="211.8" r="3.7"/>
<circle cx="846.1" cy="218.7" r="3.7"/>
<circle cx="868.1" cy="215.7" r="3.7"/>
<circle cx="841.3" cy="240.3" r="3.7"/>
<circle cx="853.6" cy="238.1" r="3.7"/>
<circle cx="858.6" cy="264.7" r="3.7"/>
<circle cx="647.1" cy="211.8" r="3.7"/>
<circle cx="641.4" cy="228" r="3.7"/>
<circle cx="601.1" cy="203.2" r="3.7"/>
<circle cx="892.5" cy="242" r="3.7"/>
<circle cx="902.3" cy="227.6" r="3.7"/>
<circle cx="963.3" cy="256" r="3.7"/>
<circle cx="923.6" cy="281.5" r="3.7"/>
<circle cx="1022.3" cy="294" r="3.7"/>
<circle cx="1042.3" cy="322" r="3.7"/>
<circle cx="1037.2" cy="337.7" r="3.7"/>
<circle cx="1071.1" cy="362" r="3.7"/>
<circle cx="1049.6" cy="374.1" r="3.7"/>
<circle cx="1030" cy="377.7" r="3.7"/>
<circle cx="1038.9" cy="389.8" r="3.7"/>
<circle cx="1047.7" cy="390" r="3.7"/>
<circle cx="1094.6" cy="400.4" r="3.7"/>
<circle cx="1102.6" cy="395.2" r="3.7"/>
<circle cx="1115" cy="391.7" r="3.7"/>
<circle cx="1127.3" cy="405.6" r="3.7"/>
<circle cx="1082.3" cy="422.8" r="3.7"/>
<circle cx="1088.7" cy="431.9" r="3.7"/>
<circle cx="1088.7" cy="443.8" r="3.7"/>
<circle cx="1083.3" cy="449.2" r="3.7"/>
<circle cx="1125.1" cy="445.7" r="3.7"/>
<circle cx="1154.1" cy="450.6" r="3.7"/>
<circle cx="1157.5" cy="459.6" r="3.7"/>
<circle cx="1092.3" cy="461.6" r="3.7"/>
<circle cx="1095.7" cy="464.8" r="3.7"/>
<circle cx="1148.8" cy="469.7" r="3.7"/>
<circle cx="1152.9" cy="468.8" r="3.7"/>
<circle cx="1142.5" cy="477" r="3.7"/>
<circle cx="1124.2" cy="497.9" r="3.7"/>
<circle cx="1121.2" cy="515.6" r="3.7"/>
<circle cx="1182.3" cy="544.7" r="3.7"/>
<circle cx="1189.6" cy="550.5" r="3.7"/>
<circle cx="1155" cy="585.3" r="3.7"/>
<circle cx="1173.1" cy="595.8" r="3.7"/>
<circle cx="1188.6" cy="592.4" r="3.7"/>
<circle cx="1193.4" cy="592.4" r="3.7"/>
<circle cx="1190.3" cy="625.6" r="3.7"/>
<circle cx="1188.9" cy="644.8" r="3.7"/>
<circle cx="1195.7" cy="684.8" r="3.7"/>
<circle cx="1210.6" cy="751.1" r="3.7"/>
<circle cx="1169.5" cy="768.4" r="3.7"/>
<circle cx="1184.5" cy="765" r="3.7"/>
<circle cx="1194.2" cy="773.4" r="3.7"/>
<circle cx="1185.4" cy="778.6" r="3.7"/>
<circle cx="1197.3" cy="787.2" r="3.7"/>
<circle cx="1146" cy="792.7" r="3.7"/>
<circle cx="1147.6" cy="803.3" r="3.7"/>
<circle cx="1184.6" cy="798.2" r="3.7"/>
<circle cx="1187.5" cy="799" r="3.7"/>
<circle cx="1188.7" cy="834.5" r="3.7"/>
<circle cx="1141.8" cy="853.9" r="3.7"/>
<circle cx="1122.6" cy="868" r="3.7"/>
<circle cx="1156.5" cy="878.3" r="3.7"/>
<circle cx="1132.3" cy="885.3" r="3.7"/>
<circle cx="1103.3" cy="914.5" r="3.7"/>
<circle cx="1101.3" cy="917.5" r="3.7"/>
<circle cx="1107.3" cy="920.1" r="3.7"/>
<circle cx="1095.2" cy="923.6" r="3.7"/>
<circle cx="1103.3" cy="926.6" r="3.7"/>
<circle cx="1111.9" cy="926.8" r="3.7"/>
<circle cx="1105.8" cy="934.2" r="3.7"/>
<circle cx="1109.8" cy="932.6" r="3.7"/>
<circle cx="1112.4" cy="935.2" r="3.7"/>
<circle cx="1135.5" cy="921.6" r="3.7"/>
<circle cx="1155.7" cy="928.6" r="3.7"/>
<circle cx="1121.9" cy="935.7" r="3.7"/>
<circle cx="1125.3" cy="942.7" r="3.7"/>
<circle cx="1146.1" cy="937.7" r="3.7"/>
<circle cx="1146.1" cy="949.8" r="3.7"/>
<circle cx="1152.1" cy="951.3" r="3.7"/>
<circle cx="1080.6" cy="951.5" r="3.7"/>
<circle cx="1074.6" cy="963.6" r="3.7"/>
<circle cx="1056" cy="988.3" r="3.7"/>
<circle cx="1033.3" cy="1072.2" r="3.7"/>
<circle cx="998.3" cy="1077.2" r="3.7"/>
<circle cx="957.8" cy="1094.4" r="3.7"/>
<circle cx="970.9" cy="1093.3" r="3.7"/>
<circle cx="1012.6" cy="1099.4" r="3.7"/>
<circle cx="1011.1" cy="1102" r="3.7"/>
<circle cx="963.8" cy="1134.9" r="3.7"/>
<circle cx="936.7" cy="1143.7" r="3.7"/>
<circle cx="884.8" cy="1131.1" r="3.7"/>
<circle cx="863" cy="1141.4" r="3.7"/>
<circle cx="867.8" cy="1180.2" r="3.7"/>
<circle cx="678.3" cy="1156.4" r="3.7"/>
<circle cx="712" cy="1162.6" r="3.7"/>
<circle cx="709.6" cy="1169.9" r="3.7"/>
<circle cx="760.3" cy="1154.2" r="3.7"/>
<circle cx="754.1" cy="1170.1" r="3.7"/>
<circle cx="724.7" cy="1196.1" r="3.7"/>
<circle cx="764.4" cy="1190.6" r="3.7"/>
<circle cx="751.9" cy="1209.2" r="3.7"/>
<circle cx="675.5" cy="1217.2" r="3.7"/>
<circle cx="568.2" cy="1147.3" r="3.7"/>
<circle cx="578" cy="1150.8" r="3.7"/>
<circle cx="615.7" cy="1151.6" r="3.7"/>
<circle cx="615.7" cy="1155.5" r="3.7"/>
<circle cx="556" cy="1169.8" r="3.7"/>
<circle cx="584.8" cy="1171.4" r="3.7"/>
<circle cx="643.5" cy="1173" r="3.7"/>
<circle cx="556" cy="1192.3" r="3.7"/>
<circle cx="576.1" cy="1195.9" r="3.7"/>
<circle cx="614.4" cy="1190.4" r="3.7"/>
<circle cx="480.8" cy="1106.8" r="3.7"/>
<circle cx="485.6" cy="1131.5" r="3.7"/>
<circle cx="535" cy="1135" r="3.7"/>
<circle cx="446.3" cy="1147.2" r="3.7"/>
<circle cx="475.1" cy="1152.4" r="3.7"/>
<circle cx="503.3" cy="1148.7" r="3.7"/>
<circle cx="533.7" cy="1155.5" r="3.7"/>
<circle cx="483" cy="1160.8" r="3.7"/>
<circle cx="476.7" cy="1171.4" r="3.7"/>
<circle cx="523.1" cy="1185.3" r="3.7"/>
<circle cx="389.4" cy="1061.6" r="3.7"/>
<circle cx="408.8" cy="1065.5" r="3.7"/>
<circle cx="415" cy="1061.3" r="3.7"/>
<circle cx="419.6" cy="1086" r="3.7"/>
<circle cx="428" cy="1086.5" r="3.7"/>
<circle cx="397.3" cy="1094.7" r="3.7"/>
<circle cx="382.7" cy="1105.2" r="3.7"/>
<circle cx="306.3" cy="1019.6" r="3.7"/>
<circle cx="324.2" cy="1042.4" r="3.7"/>
<circle cx="344.5" cy="1044.7" r="3.7"/>
<circle cx="347" cy="1049.4" r="3.7"/>
<circle cx="227.5" cy="917.2" r="3.7"/>
<circle cx="286.9" cy="939.5" r="3.7"/>
<circle cx="304.9" cy="950.1" r="3.7"/>
<circle cx="287.3" cy="940.7" r="3.7"/>
<circle cx="212" cy="824.2" r="3.7"/>
<circle cx="258.5" cy="845.3" r="3.7"/>
<circle cx="268.8" cy="862.6" r="3.7"/>
<circle cx="249.4" cy="873.3" r="3.7"/>
<circle cx="230" cy="878.5" r="3.7"/>
<circle cx="233.3" cy="876.5" r="3.7"/>
<circle cx="219.7" cy="897.8" r="3.7"/>
<circle cx="181.3" cy="758.3" r="3.7"/>
<circle cx="216.3" cy="756.1" r="3.7"/>
<circle cx="231" cy="766.5" r="3.7"/>
<circle cx="219.7" cy="777.1" r="3.7"/>
<circle cx="191" cy="789.6" r="3.7"/>
<circle cx="185.3" cy="798.3" r="3.7"/>
<circle cx="189.9" cy="663.7" r="3.7"/>
<circle cx="239.2" cy="667.6" r="3.7"/>
<circle cx="212.2" cy="692" r="3.7"/>
<circle cx="203" cy="560.9" r="3.7"/>
<circle cx="217.2" cy="566.4" r="3.7"/>
<circle cx="225.2" cy="574.7" r="3.7"/>
<circle cx="227.6" cy="582.2" r="3.7"/>
<circle cx="244.2" cy="567.6" r="3.7"/>
<circle cx="241.4" cy="583.4" r="3.7"/>
<circle cx="192.5" cy="587.8" r="3.7"/>
<circle cx="191.7" cy="590.5" r="3.7"/>
<circle cx="183.8" cy="602.7" r="3.7"/>
<circle cx="202.4" cy="609.8" r="3.7"/>
<circle cx="230.4" cy="622.1" r="3.7"/>
<circle cx="235.5" cy="635.9" r="3.7"/>
<circle cx="226.7" cy="473.5" r="3.7"/>
<circle cx="251.9" cy="508.5" r="3.7"/>
<circle cx="216.2" cy="518.8" r="3.7"/>
<circle cx="208.4" cy="532.8" r="3.7"/>
<circle cx="262.4" cy="410.5" r="3.7"/>
<circle cx="285" cy="431.8" r="3.7"/>
<circle cx="283.5" cy="463.2" r="3.7"/>
<circle cx="289.6" cy="461.3" r="3.7"/>
<circle cx="317.3" cy="358.5" r="3.7"/>
<circle cx="291.4" cy="380" r="3.7"/>
<circle cx="339.3" cy="379.8" r="3.7"/>
<circle cx="345.1" cy="385.3" r="3.7"/>
<circle cx="354.8" cy="388.5" r="3.7"/>
<circle cx="362" cy="383.1" r="3.7"/>
<circle cx="310.1" cy="405.6" r="3.7"/>
<circle cx="321.2" cy="409.8" r="3.7"/>
<circle cx="321.5" cy="412" r="3.7"/>
<circle cx="360.7" cy="316.7" r="3.7"/>
<circle cx="398.6" cy="322.3" r="3.7"/>
<circle cx="407.2" cy="265.9" r="3.7"/>
<circle cx="439.1" cy="297.7" r="3.7"/>
<circle cx="489.2" cy="250.3" r="3.7"/>
<circle cx="476.2" cy="262.9" r="3.7"/>
<circle cx="504" cy="262.9" r="3.7"/>
<circle cx="463.4" cy="276.7" r="3.7"/>
<circle cx="535.1" cy="212.3" r="3.7"/>
<circle cx="566.5" cy="241.7" r="3.7"/>
<circle cx="564.5" cy="255.8" r="3.7"/>
<circle cx="595.5" cy="191.1" r="3.7"/>
</g>
<path d="M569.1 275.5L574.5 293.2L589.4 306L593.8 321.9M569.1 275.5L574.5 293.2L567.8 312.7L573.1 328.3M611.5 264.9L615.1 283L618.3 299.2L621.5 315.4M744.5 259.1L742.5 277.5L731.2 293L729.8 309.4M744.5 259.1L742.5 277.5L751.3 295.2L749.1 311.5M830.8 277.3L825.1 295L820.8 310.9L815.8 326.6M870.3 292.1L863 309.1L856.2 324.1L849.7 339.3M1000.4 377.9L987.7 391.3L967.5 395.1L956.5 407.3M1000.4 377.9L987.7 391.3L983.4 410.1L971.7 421.8M1015.1 392.5L1001.7 405.3L997 424.5L984.8 435.5M1067.7 459.4L1052.1 469.4L1038.2 478.3L1024.3 487.2M1117.3 566.4L1099.6 571.9L1080.7 567L1065.1 572.3M1117.3 566.4L1099.6 571.9L1086.8 586.6L1070.9 591M1127.9 607.3L1109.7 611L1093.6 614.4L1077.4 617.7M1133.7 642.9L1115.4 645.1L1099 647.1L1082.6 649.2M1127.4 788L1109.3 784.1L1095.2 770.3L1079 767.3M1127.4 788L1109.3 784.1L1090.6 791.7L1074.6 787.9M1105.5 859.9L1088.4 853L1076.5 838L1061 832.2M1105.5 859.9L1088.4 853L1069 856.7L1053.8 850.2M1077.7 917.2L1061.7 907.9L1047.4 899.6L1033.1 891.3M1063.5 940L1048.1 929.8L1036.7 917.1L1022.8 908.1M1056.1 950.8L1041 940.1L1024.2 935.1L1010.9 925.4M721.6 1135.8L720.5 1117.3L724.9 1100.5L723.8 1084.1M710.8 1136.3L710.2 1117.8L703.4 1101.5L703.1 1085M528.6 1103L535.7 1085.9L542 1070.7L548.3 1055.4M504.5 1092.1L512.6 1075.5L519.8 1060.7L527 1045.8M441.5 1054.7L452.2 1039.6L461.8 1026.2L471.4 1012.8M414.2 1033.6L426.1 1019.4L436.7 1006.7L447.3 994.1M291.2 866.7L308.3 859.5L312.7 824.3L328.4 819.1M291.2 866.7L308.3 859.5L319.9 844.3L335.3 838.3M291.2 866.7L308.3 859.5L327.9 863.2L342.9 856.4M291.2 866.7L308.3 859.5L336.9 881.9L351.6 874.4M257 692.7L275.5 692.8L292.2 682.4L308.7 682.9M257 692.7L275.5 692.8L292.1 703.6L308.6 703.3M257 692.7L275.5 692.8L292.9 724L309.4 722.9M257.9 668.9L276.3 670L293.6 660.8L310 662.3M272.2 581.9L290.1 586.7L312.3 570L327.9 575.2M269.4 592.7L287.4 597L306.3 590L322.2 594.3M269.4 592.7L287.4 597L301.1 611.3L317.2 614.7M266.9 603.5L285 607.4L297.1 632.4L313.4 635.1M313.3 481.2L329.4 490.2L349.7 488.2L363.8 496.7M313.3 481.2L329.4 490.2L339.1 507L353.7 514.7M350.3 425.6L364.9 437L377.9 447.2L390.9 457.3M405.4 367L417.7 380.8L428.6 393.2L439.6 405.5" fill="none" stroke="#222" stroke-width="1.3" stroke-linejoin="round"/>
<path d="M1106.1 858.5L1090.8 852.4M1105 861.3L1089.7 855.1M291.7 867.7L306.9 861.3M290.8 865.6L306 859.2M269.2 593.8L285.2 597.6M269.7 591.5L285.7 595.5" fill="none" stroke="#222" stroke-width="0.8"/>
<g font-family="Liberation Sans, sans-serif" font-size="17.5" fill="#111" stroke="#111" stroke-width="0.35">
<text x="594.6" y="324.8" dy="6.3" text-anchor="start" transform="rotate(434.6 594.6 324.8)">ADAM3A</text>
<text x="574" y="331.1" dy="6.3" text-anchor="start" transform="rotate(431.4 574 331.1)">ADAM2</text>
<text x="622.1" y="318.3" dy="6.3" text-anchor="start" transform="rotate(438.8 622.1 318.3)">CTNNA3</text>
<text x="729.6" y="312.4" dy="6.3" text-anchor="end" transform="rotate(-85.2 729.6 312.4)">OR5H6</text>
<text x="748.7" y="314.5" dy="6.3" text-anchor="end" transform="rotate(-82.3 748.7 314.5)">OR5K3</text>
<text x="814.8" y="329.5" dy="6.3" text-anchor="end" transform="rotate(-72.2 814.8 329.5)">CLSTN2</text>
<text x="848.6" y="342" dy="6.3" text-anchor="end" transform="rotate(-66.8 848.6 342)">LIMS2</text>
<text x="954.4" y="409.6" dy="6.3" text-anchor="end" transform="rotate(-48.1 954.4 409.6)">PEAR1</text>
<text x="969.6" y="423.9" dy="6.3" text-anchor="end" transform="rotate(-45 969.6 423.9)">BCAN</text>
<text x="982.6" y="437.6" dy="6.3" text-anchor="end" transform="rotate(-42.2 982.6 437.6)">STXBP3</text>
<text x="1021.8" y="488.8" dy="6.3" text-anchor="end" transform="rotate(-32.6 1021.8 488.8)">COL6A3</text>
<text x="1062.3" y="573.2" dy="6.3" text-anchor="end" transform="rotate(-18.7 1062.3 573.2)">TAS2R4</text>
<text x="1068" y="591.9" dy="6.3" text-anchor="end" transform="rotate(-15.8 1068 591.9)">TAS2R3</text>
<text x="1074.5" y="618.3" dy="6.3" text-anchor="end" transform="rotate(-11.7 1074.5 618.3)">KITLG</text>
<text x="1079.6" y="649.5" dy="6.3" text-anchor="end" transform="rotate(-7 1079.6 649.5)">GATA5</text>
<text x="1076" y="766.8" dy="6.3" text-anchor="end" transform="rotate(10.5 1076 766.8)">PDGFRA</text>
<text x="1071.7" y="787.1" dy="6.3" text-anchor="end" transform="rotate(13.6 1071.7 787.1)">KIT</text>
<text x="1058.2" y="831.2" dy="6.3" text-anchor="end" transform="rotate(20.5 1058.2 831.2)">CAMSAP3</text>
<text x="1051.1" y="849" dy="6.3" text-anchor="end" transform="rotate(23.3 1051.1 849)">PTPRS</text>
<text x="1030.5" y="889.8" dy="6.3" text-anchor="end" transform="rotate(30.1 1030.5 889.8)">TENM2</text>
<text x="1020.3" y="906.5" dy="6.3" text-anchor="end" transform="rotate(33 1020.3 906.5)">EFNA5</text>
<text x="1008.5" y="923.6" dy="6.3" text-anchor="end" transform="rotate(36.1 1008.5 923.6)">PALLD</text>
<text x="723.6" y="1081.1" dy="6.3" text-anchor="end" transform="rotate(86.1 723.6 1081.1)">LIMS1</text>
<text x="703.1" y="1082" dy="6.3" text-anchor="end" transform="rotate(89.1 703.1 1082)">CTNNA2</text>
<text x="549.5" y="1052.7" dy="6.3" text-anchor="start" transform="rotate(292.5 549.5 1052.7)">FREM1</text>
<text x="528.3" y="1043.1" dy="6.3" text-anchor="start" transform="rotate(295.9 528.3 1043.1)">LAMA5</text>
<text x="473.1" y="1010.3" dy="6.3" text-anchor="start" transform="rotate(305.5 473.1 1010.3)">TRPA1</text>
<text x="449.2" y="991.8" dy="6.3" text-anchor="start" transform="rotate(310 449.2 991.8)">CDH17</text>
<text x="331.2" y="818.2" dy="6.3" text-anchor="start" transform="rotate(341.6 331.2 818.2)">FGB</text>
<text x="338.1" y="837.2" dy="6.3" text-anchor="start" transform="rotate(338.6 338.1 837.2)">FGB</text>
<text x="345.7" y="855.1" dy="6.3" text-anchor="start" transform="rotate(335.7 345.7 855.1)">FGA</text>
<text x="354.3" y="873" dy="6.3" text-anchor="start" transform="rotate(332.8 354.3 873)">FGG</text>
<text x="311.7" y="683" dy="6.3" text-anchor="start" transform="rotate(362 311.7 683)">ITGAE</text>
<text x="311.6" y="703.2" dy="6.3" text-anchor="start" transform="rotate(359 311.6 703.2)">TRPV1</text>
<text x="312.4" y="722.7" dy="6.3" text-anchor="start" transform="rotate(356.1 312.4 722.7)">OR1E1</text>
<text x="313" y="662.6" dy="6.3" text-anchor="start" transform="rotate(365.1 313 662.6)">TCAM1</text>
<text x="330.8" y="576.1" dy="6.3" text-anchor="start" transform="rotate(378.2 330.8 576.1)">TAS2R1</text>
<text x="325.1" y="595.1" dy="6.3" text-anchor="start" transform="rotate(375.2 325.1 595.1)">CDH18</text>
<text x="320.1" y="615.4" dy="6.3" text-anchor="start" transform="rotate(372.1 320.1 615.4)">CDH12</text>
<text x="316.4" y="635.5" dy="6.3" text-anchor="start" transform="rotate(369.1 316.4 635.5)">GOLPH3</text>
<text x="366.4" y="498.2" dy="6.3" text-anchor="start" transform="rotate(390.9 366.4 498.2)">RPSA</text>
<text x="356.3" y="516.1" dy="6.3" text-anchor="start" transform="rotate(387.9 356.3 516.1)">CX3CR1</text>
<text x="393.2" y="459.2" dy="6.3" text-anchor="start" transform="rotate(398 393.2 459.2)">PPARD</text>
<text x="441.6" y="407.8" dy="6.3" text-anchor="start" transform="rotate(408.5 441.6 407.8)">CDH2</text>
</g>
</g>
</svg>
</body></html>
